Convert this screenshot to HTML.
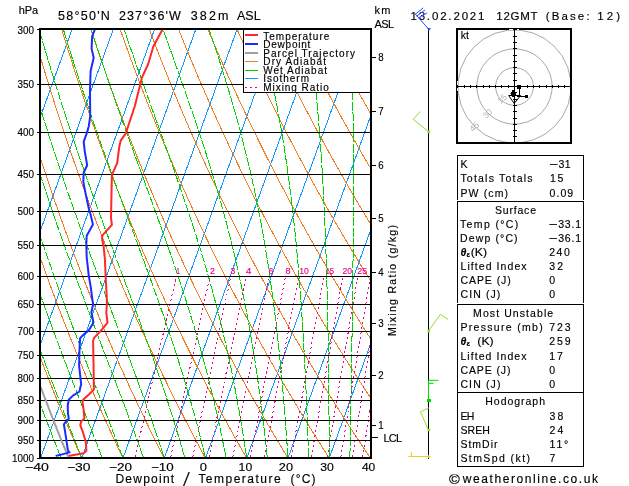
<!DOCTYPE html>
<html><head><meta charset="utf-8"><style>
html,body{margin:0;padding:0;background:#fff;}
body{width:629px;height:486px;position:relative;overflow:hidden;font-family:"Liberation Sans",sans-serif;}
svg text{font-family:"Liberation Sans",sans-serif;stroke:#000;stroke-width:0.15px;}
</style></head><body>
<svg width="629" height="486" viewBox="0 0 629 486" style="position:absolute;left:0;top:0">
<g fill="none" stroke-width="1" shape-rendering="crispEdges">
<path stroke="#1496ff" d="M41.00 115.03 L71.79 30.00 M41.00 228.95 L113.04 30.00 M41.00 342.87 L154.29 30.00 M41.00 456.79 L195.54 30.00 M82.17 457.00 L236.79 30.00 M123.42 457.00 L278.04 30.00 M164.67 457.00 L319.29 30.00 M205.92 457.00 L360.54 30.00 M247.17 457.00 L370.00 117.79 M288.42 457.00 L370.00 231.71 M329.67 457.00 L370.00 345.63"/>
<path stroke="#f07d1e" d="M81.23 457.00 L80.79 456.03 L79.84 453.87 L78.90 451.72 L77.95 449.57 L77.01 447.42 L76.07 445.26 L75.14 443.11 L74.21 440.96 L73.28 438.81 L72.35 436.66 L71.43 434.50 L70.51 432.35 L69.59 430.20 L68.68 428.05 L67.77 425.90 L66.86 423.74 L65.95 421.59 L65.05 419.44 L64.15 417.29 L63.25 415.13 L62.36 412.98 L61.47 410.83 L60.58 408.68 L59.69 406.53 L58.81 404.37 L57.93 402.22 L57.05 400.07 L56.18 397.92 L55.31 395.76 L54.44 393.61 L53.58 391.46 L52.71 389.31 L51.85 387.16 L51.00 385.00 L50.14 382.85 L49.29 380.70 L48.44 378.55 L47.60 376.40 L46.75 374.24 L45.91 372.09 L45.08 369.94 L44.24 367.79 L43.41 365.63 L42.58 363.48 L41.76 361.33 L41.00 359.35 M122.44 457.00 L121.97 456.03 L120.95 453.87 L119.93 451.72 L118.92 449.57 L117.91 447.42 L116.90 445.26 L115.89 443.11 L114.89 440.96 L113.89 438.81 L112.90 436.66 L111.90 434.50 L110.91 432.35 L109.92 430.20 L108.94 428.05 L107.96 425.90 L106.98 423.74 L106.01 421.59 L105.03 419.44 L104.07 417.29 L103.10 415.13 L102.14 412.98 L101.18 410.83 L100.22 408.68 L99.27 406.53 L98.32 404.37 L97.37 402.22 L96.42 400.07 L95.48 397.92 L94.54 395.76 L93.61 393.61 L92.67 391.46 L91.74 389.31 L90.82 387.16 L89.89 385.00 L88.97 382.85 L88.05 380.70 L87.14 378.55 L86.22 376.40 L85.32 374.24 L84.41 372.09 L83.51 369.94 L82.60 367.79 L81.71 365.63 L80.81 363.48 L79.92 361.33 L79.03 359.18 L78.14 357.03 L77.26 354.87 L76.38 352.72 L75.50 350.57 L74.63 348.42 L73.76 346.27 L72.89 344.11 L72.02 341.96 L71.16 339.81 L70.30 337.66 L69.44 335.50 L68.58 333.35 L67.73 331.20 L66.88 329.05 L66.04 326.90 L65.19 324.74 L64.35 322.59 L63.51 320.44 L62.68 318.29 L61.85 316.14 L61.02 313.98 L60.19 311.83 L59.36 309.68 L58.54 307.53 L57.72 305.37 L56.91 303.22 L56.10 301.07 L55.29 298.92 L54.48 296.77 L53.67 294.61 L52.87 292.46 L52.07 290.31 L51.27 288.16 L50.48 286.01 L49.69 283.85 L48.90 281.70 L48.11 279.55 L47.33 277.40 L46.55 275.24 L45.77 273.09 L45.00 270.94 L44.23 268.79 L43.46 266.64 L42.69 264.48 L41.93 262.33 L41.16 260.18 L41.00 259.72 M163.65 457.00 L163.15 456.03 L162.06 453.87 L160.97 451.72 L159.89 449.57 L158.80 447.42 L157.72 445.26 L156.65 443.11 L155.57 440.96 L154.51 438.81 L153.44 436.66 L152.38 434.50 L151.32 432.35 L150.26 430.20 L149.20 428.05 L148.15 425.90 L147.11 423.74 L146.06 421.59 L145.02 419.44 L143.98 417.29 L142.95 415.13 L141.92 412.98 L140.89 410.83 L139.86 408.68 L138.84 406.53 L137.82 404.37 L136.81 402.22 L135.79 400.07 L134.78 397.92 L133.78 395.76 L132.77 393.61 L131.77 391.46 L130.77 389.31 L129.78 387.16 L128.79 385.00 L127.80 382.85 L126.81 380.70 L125.83 378.55 L124.85 376.40 L123.88 374.24 L122.90 372.09 L121.93 369.94 L120.97 367.79 L120.00 365.63 L119.04 363.48 L118.08 361.33 L117.13 359.18 L116.18 357.03 L115.23 354.87 L114.28 352.72 L113.34 350.57 L112.40 348.42 L111.46 346.27 L110.53 344.11 L109.59 341.96 L108.67 339.81 L107.74 337.66 L106.82 335.50 L105.90 333.35 L104.98 331.20 L104.07 329.05 L103.16 326.90 L102.25 324.74 L101.34 322.59 L100.44 320.44 L99.54 318.29 L98.65 316.14 L97.75 313.98 L96.86 311.83 L95.98 309.68 L95.09 307.53 L94.21 305.37 L93.33 303.22 L92.46 301.07 L91.58 298.92 L90.71 296.77 L89.84 294.61 L88.98 292.46 L88.12 290.31 L87.26 288.16 L86.40 286.01 L85.55 283.85 L84.70 281.70 L83.85 279.55 L83.01 277.40 L82.16 275.24 L81.33 273.09 L80.49 270.94 L79.66 268.79 L78.82 266.64 L78.00 264.48 L77.17 262.33 L76.35 260.18 L75.53 258.03 L74.71 255.88 L73.90 253.72 L73.09 251.57 L72.28 249.42 L71.47 247.27 L70.67 245.11 L69.87 242.96 L69.07 240.81 L68.27 238.66 L67.48 236.51 L66.69 234.35 L65.91 232.20 L65.12 230.05 L64.34 227.90 L63.56 225.75 L62.79 223.59 L62.01 221.44 L61.24 219.29 L60.47 217.14 L59.71 214.98 L58.94 212.83 L58.18 210.68 L57.43 208.53 L56.67 206.38 L55.92 204.22 L55.17 202.07 L54.42 199.92 L53.68 197.77 L52.94 195.62 L52.20 193.46 L51.46 191.31 L50.73 189.16 L50.00 187.01 L49.27 184.85 L48.54 182.70 L47.82 180.55 L47.10 178.40 L46.38 176.25 L45.67 174.09 L44.95 171.94 L44.24 169.79 L43.54 167.64 L42.83 165.49 L42.13 163.33 L41.43 161.18 L41.00 159.86 M204.86 457.00 L204.33 456.03 L203.17 453.87 L202.01 451.72 L200.85 449.57 L199.70 447.42 L198.55 445.26 L197.40 443.11 L196.26 440.96 L195.12 438.81 L193.98 436.66 L192.85 434.50 L191.72 432.35 L190.59 430.20 L189.47 428.05 L188.35 425.90 L187.23 423.74 L186.12 421.59 L185.01 419.44 L183.90 417.29 L182.80 415.13 L181.70 412.98 L180.60 410.83 L179.51 408.68 L178.41 406.53 L177.33 404.37 L176.24 402.22 L175.16 400.07 L174.08 397.92 L173.01 395.76 L171.94 393.61 L170.87 391.46 L169.80 389.31 L168.74 387.16 L167.68 385.00 L166.63 382.85 L165.58 380.70 L164.53 378.55 L163.48 376.40 L162.44 374.24 L161.40 372.09 L160.36 369.94 L159.33 367.79 L158.30 365.63 L157.27 363.48 L156.25 361.33 L155.22 359.18 L154.21 357.03 L153.19 354.87 L152.18 352.72 L151.17 350.57 L150.17 348.42 L149.16 346.27 L148.16 344.11 L147.17 341.96 L146.17 339.81 L145.18 337.66 L144.20 335.50 L143.21 333.35 L142.23 331.20 L141.25 329.05 L140.28 326.90 L139.31 324.74 L138.34 322.59 L137.37 320.44 L136.41 318.29 L135.45 316.14 L134.49 313.98 L133.54 311.83 L132.59 309.68 L131.64 307.53 L130.70 305.37 L129.75 303.22 L128.82 301.07 L127.88 298.92 L126.95 296.77 L126.02 294.61 L125.09 292.46 L124.17 290.31 L123.24 288.16 L122.33 286.01 L121.41 283.85 L120.50 281.70 L119.59 279.55 L118.68 277.40 L117.78 275.24 L116.88 273.09 L115.98 270.94 L115.09 268.79 L114.19 266.64 L113.30 264.48 L112.42 262.33 L111.53 260.18 L110.65 258.03 L109.78 255.88 L108.90 253.72 L108.03 251.57 L107.16 249.42 L106.29 247.27 L105.43 245.11 L104.57 242.96 L103.71 240.81 L102.86 238.66 L102.01 236.51 L101.16 234.35 L100.31 232.20 L99.47 230.05 L98.62 227.90 L97.79 225.75 L96.95 223.59 L96.12 221.44 L95.29 219.29 L94.46 217.14 L93.64 214.98 L92.82 212.83 L92.00 210.68 L91.18 208.53 L90.37 206.38 L89.56 204.22 L88.75 202.07 L87.95 199.92 L87.14 197.77 L86.35 195.62 L85.55 193.46 L84.75 191.31 L83.96 189.16 L83.18 187.01 L82.39 184.85 L81.61 182.70 L80.83 180.55 L80.05 178.40 L79.27 176.25 L78.50 174.09 L77.73 171.94 L76.96 169.79 L76.20 167.64 L75.44 165.49 L74.68 163.33 L73.92 161.18 L73.17 159.03 L72.42 156.88 L71.67 154.72 L70.92 152.57 L70.18 150.42 L69.44 148.27 L68.70 146.12 L67.97 143.96 L67.24 141.81 L66.51 139.66 L65.78 137.51 L65.05 135.36 L64.33 133.20 L63.61 131.05 L62.89 128.90 L62.18 126.75 L61.47 124.59 L60.76 122.44 L60.05 120.29 L59.35 118.14 L58.65 115.99 L57.95 113.83 L57.25 111.68 L56.56 109.53 L55.87 107.38 L55.18 105.23 L54.49 103.07 L53.81 100.92 L53.13 98.77 L52.45 96.62 L51.77 94.46 L51.10 92.31 L50.43 90.16 L49.76 88.01 L49.09 85.86 L48.43 83.70 L47.77 81.55 L47.11 79.40 L46.45 77.25 L45.80 75.10 L45.15 72.94 L44.50 70.79 L43.85 68.64 L43.21 66.49 L42.57 64.33 L41.93 62.18 L41.29 60.03 L41.00 59.05 M246.07 457.00 L245.51 456.03 L244.28 453.87 L243.04 451.72 L241.82 449.57 L240.59 447.42 L239.37 445.26 L238.16 443.11 L236.94 440.96 L235.73 438.81 L234.52 436.66 L233.32 434.50 L232.12 432.35 L230.93 430.20 L229.73 428.05 L228.54 425.90 L227.36 423.74 L226.17 421.59 L224.99 419.44 L223.82 417.29 L222.65 415.13 L221.48 412.98 L220.31 410.83 L219.15 408.68 L217.99 406.53 L216.83 404.37 L215.68 402.22 L214.53 400.07 L213.38 397.92 L212.24 395.76 L211.10 393.61 L209.97 391.46 L208.83 389.31 L207.70 387.16 L206.58 385.00 L205.46 382.85 L204.34 380.70 L203.22 378.55 L202.11 376.40 L201.00 374.24 L199.89 372.09 L198.79 369.94 L197.69 367.79 L196.59 365.63 L195.50 363.48 L194.41 361.33 L193.32 359.18 L192.24 357.03 L191.16 354.87 L190.08 352.72 L189.01 350.57 L187.94 348.42 L186.87 346.27 L185.80 344.11 L184.74 341.96 L183.68 339.81 L182.63 337.66 L181.58 335.50 L180.53 333.35 L179.48 331.20 L178.44 329.05 L177.40 326.90 L176.37 324.74 L175.33 322.59 L174.30 320.44 L173.28 318.29 L172.25 316.14 L171.23 313.98 L170.22 311.83 L169.20 309.68 L168.19 307.53 L167.18 305.37 L166.18 303.22 L165.18 301.07 L164.18 298.92 L163.18 296.77 L162.19 294.61 L161.20 292.46 L160.21 290.31 L159.23 288.16 L158.25 286.01 L157.27 283.85 L156.30 281.70 L155.33 279.55 L154.36 277.40 L153.39 275.24 L152.43 273.09 L151.47 270.94 L150.51 268.79 L149.56 266.64 L148.61 264.48 L147.66 262.33 L146.72 260.18 L145.78 258.03 L144.84 255.88 L143.90 253.72 L142.97 251.57 L142.04 249.42 L141.12 247.27 L140.19 245.11 L139.27 242.96 L138.35 240.81 L137.44 238.66 L136.53 236.51 L135.62 234.35 L134.71 232.20 L133.81 230.05 L132.91 227.90 L132.01 225.75 L131.12 223.59 L130.23 221.44 L129.34 219.29 L128.45 217.14 L127.57 214.98 L126.69 212.83 L125.81 210.68 L124.94 208.53 L124.07 206.38 L123.20 204.22 L122.33 202.07 L121.47 199.92 L120.61 197.77 L119.75 195.62 L118.90 193.46 L118.05 191.31 L117.20 189.16 L116.35 187.01 L115.51 184.85 L114.67 182.70 L113.83 180.55 L113.00 178.40 L112.16 176.25 L111.34 174.09 L110.51 171.94 L109.69 169.79 L108.86 167.64 L108.05 165.49 L107.23 163.33 L106.42 161.18 L105.61 159.03 L104.80 156.88 L104.00 154.72 L103.20 152.57 L102.40 150.42 L101.60 148.27 L100.81 146.12 L100.02 143.96 L99.23 141.81 L98.44 139.66 L97.66 137.51 L96.88 135.36 L96.10 133.20 L95.33 131.05 L94.56 128.90 L93.79 126.75 L93.02 124.59 L92.26 122.44 L91.50 120.29 L90.74 118.14 L89.98 115.99 L89.23 113.83 L88.48 111.68 L87.73 109.53 L86.99 107.38 L86.24 105.23 L85.50 103.07 L84.77 100.92 L84.03 98.77 L83.30 96.62 L82.57 94.46 L81.84 92.31 L81.12 90.16 L80.40 88.01 L79.68 85.86 L78.96 83.70 L78.25 81.55 L77.54 79.40 L76.83 77.25 L76.12 75.10 L75.42 72.94 L74.72 70.79 L74.02 68.64 L73.32 66.49 L72.63 64.33 L71.94 62.18 L71.25 60.03 L70.56 57.88 L69.88 55.73 L69.20 53.57 L68.52 51.42 L67.85 49.27 L67.17 47.12 L66.50 44.97 L65.83 42.81 L65.17 40.66 L64.51 38.51 L63.85 36.36 L63.19 34.20 L62.53 32.05 L61.91 30.00 M287.28 457.00 L286.69 456.03 L285.38 453.87 L284.08 451.72 L282.78 449.57 L281.49 447.42 L280.20 445.26 L278.91 443.11 L277.63 440.96 L276.34 438.81 L275.07 436.66 L273.79 434.50 L272.52 432.35 L271.26 430.20 L270.00 428.05 L268.74 425.90 L267.48 423.74 L266.23 421.59 L264.98 419.44 L263.74 417.29 L262.49 415.13 L261.26 412.98 L260.02 410.83 L258.79 408.68 L257.56 406.53 L256.34 404.37 L255.12 402.22 L253.90 400.07 L252.69 397.92 L251.48 395.76 L250.27 393.61 L249.06 391.46 L247.86 389.31 L246.67 387.16 L245.47 385.00 L244.28 382.85 L243.10 380.70 L241.92 378.55 L240.74 376.40 L239.56 374.24 L238.39 372.09 L237.22 369.94 L236.05 367.79 L234.89 365.63 L233.73 363.48 L232.57 361.33 L231.42 359.18 L230.27 357.03 L229.12 354.87 L227.98 352.72 L226.84 350.57 L225.70 348.42 L224.57 346.27 L223.44 344.11 L222.32 341.96 L221.19 339.81 L220.07 337.66 L218.96 335.50 L217.84 333.35 L216.73 331.20 L215.63 329.05 L214.52 326.90 L213.42 324.74 L212.33 322.59 L211.23 320.44 L210.14 318.29 L209.06 316.14 L207.97 313.98 L206.89 311.83 L205.81 309.68 L204.74 307.53 L203.67 305.37 L202.60 303.22 L201.54 301.07 L200.47 298.92 L199.42 296.77 L198.36 294.61 L197.31 292.46 L196.26 290.31 L195.21 288.16 L194.17 286.01 L193.13 283.85 L192.10 281.70 L191.06 279.55 L190.03 277.40 L189.01 275.24 L187.98 273.09 L186.96 270.94 L185.94 268.79 L184.93 266.64 L183.92 264.48 L182.91 262.33 L181.90 260.18 L180.90 258.03 L179.90 255.88 L178.91 253.72 L177.91 251.57 L176.93 249.42 L175.94 247.27 L174.95 245.11 L173.97 242.96 L173.00 240.81 L172.02 238.66 L171.05 236.51 L170.08 234.35 L169.12 232.20 L168.15 230.05 L167.19 227.90 L166.24 225.75 L165.28 223.59 L164.33 221.44 L163.39 219.29 L162.44 217.14 L161.50 214.98 L160.56 212.83 L159.63 210.68 L158.69 208.53 L157.76 206.38 L156.84 204.22 L155.91 202.07 L154.99 199.92 L154.07 197.77 L153.16 195.62 L152.25 193.46 L151.34 191.31 L150.43 189.16 L149.53 187.01 L148.63 184.85 L147.73 182.70 L146.84 180.55 L145.95 178.40 L145.06 176.25 L144.17 174.09 L143.29 171.94 L142.41 169.79 L141.53 167.64 L140.66 165.49 L139.78 163.33 L138.91 161.18 L138.05 159.03 L137.19 156.88 L136.33 154.72 L135.47 152.57 L134.61 150.42 L133.76 148.27 L132.91 146.12 L132.07 143.96 L131.22 141.81 L130.38 139.66 L129.55 137.51 L128.71 135.36 L127.88 133.20 L127.05 131.05 L126.22 128.90 L125.40 126.75 L124.58 124.59 L123.76 122.44 L122.94 120.29 L122.13 118.14 L121.32 115.99 L120.51 113.83 L119.71 111.68 L118.91 109.53 L118.11 107.38 L117.31 105.23 L116.52 103.07 L115.73 100.92 L114.94 98.77 L114.15 96.62 L113.37 94.46 L112.59 92.31 L111.81 90.16 L111.04 88.01 L110.27 85.86 L109.50 83.70 L108.73 81.55 L107.97 79.40 L107.21 77.25 L106.45 75.10 L105.69 72.94 L104.94 70.79 L104.19 68.64 L103.44 66.49 L102.69 64.33 L101.95 62.18 L101.21 60.03 L100.47 57.88 L99.74 55.73 L99.01 53.57 L98.28 51.42 L97.55 49.27 L96.82 47.12 L96.10 44.97 L95.38 42.81 L94.67 40.66 L93.95 38.51 L93.24 36.36 L92.53 34.20 L91.83 32.05 L91.15 30.00 M328.49 457.00 L327.87 456.03 L326.49 453.87 L325.12 451.72 L323.75 449.57 L322.38 447.42 L321.02 445.26 L319.66 443.11 L318.31 440.96 L316.96 438.81 L315.61 436.66 L314.27 434.50 L312.93 432.35 L311.59 430.20 L310.26 428.05 L308.93 425.90 L307.61 423.74 L306.28 421.59 L304.97 419.44 L303.65 417.29 L302.34 415.13 L301.03 412.98 L299.73 410.83 L298.43 408.68 L297.14 406.53 L295.84 404.37 L294.55 402.22 L293.27 400.07 L291.99 397.92 L290.71 395.76 L289.43 393.61 L288.16 391.46 L286.89 389.31 L285.63 387.16 L284.37 385.00 L283.11 382.85 L281.86 380.70 L280.61 378.55 L279.36 376.40 L278.12 374.24 L276.88 372.09 L275.64 369.94 L274.41 367.79 L273.18 365.63 L271.96 363.48 L270.73 361.33 L269.52 359.18 L268.30 357.03 L267.09 354.87 L265.88 352.72 L264.68 350.57 L263.47 348.42 L262.28 346.27 L261.08 344.11 L259.89 341.96 L258.70 339.81 L257.52 337.66 L256.34 335.50 L255.16 333.35 L253.98 331.20 L252.81 329.05 L251.65 326.90 L250.48 324.74 L249.32 322.59 L248.16 320.44 L247.01 318.29 L245.86 316.14 L244.71 313.98 L243.57 311.83 L242.43 309.68 L241.29 307.53 L240.15 305.37 L239.02 303.22 L237.90 301.07 L236.77 298.92 L235.65 296.77 L234.53 294.61 L233.42 292.46 L232.31 290.31 L231.20 288.16 L230.09 286.01 L228.99 283.85 L227.89 281.70 L226.80 279.55 L225.71 277.40 L224.62 275.24 L223.53 273.09 L222.45 270.94 L221.37 268.79 L220.30 266.64 L219.23 264.48 L218.16 262.33 L217.09 260.18 L216.03 258.03 L214.97 255.88 L213.91 253.72 L212.86 251.57 L211.81 249.42 L210.76 247.27 L209.72 245.11 L208.68 242.96 L207.64 240.81 L206.60 238.66 L205.57 236.51 L204.54 234.35 L203.52 232.20 L202.50 230.05 L201.48 227.90 L200.46 225.75 L199.45 223.59 L198.44 221.44 L197.44 219.29 L196.43 217.14 L195.43 214.98 L194.43 212.83 L193.44 210.68 L192.45 208.53 L191.46 206.38 L190.48 204.22 L189.49 202.07 L188.52 199.92 L187.54 197.77 L186.57 195.62 L185.60 193.46 L184.63 191.31 L183.67 189.16 L182.71 187.01 L181.75 184.85 L180.79 182.70 L179.84 180.55 L178.89 178.40 L177.95 176.25 L177.01 174.09 L176.07 171.94 L175.13 169.79 L174.19 167.64 L173.26 165.49 L172.34 163.33 L171.41 161.18 L170.49 159.03 L169.57 156.88 L168.65 154.72 L167.74 152.57 L166.83 150.42 L165.92 148.27 L165.02 146.12 L164.12 143.96 L163.22 141.81 L162.32 139.66 L161.43 137.51 L160.54 135.36 L159.65 133.20 L158.77 131.05 L157.89 128.90 L157.01 126.75 L156.13 124.59 L155.26 122.44 L154.39 120.29 L153.52 118.14 L152.66 115.99 L151.80 113.83 L150.94 111.68 L150.08 109.53 L149.23 107.38 L148.38 105.23 L147.53 103.07 L146.69 100.92 L145.85 98.77 L145.01 96.62 L144.17 94.46 L143.34 92.31 L142.51 90.16 L141.68 88.01 L140.86 85.86 L140.03 83.70 L139.21 81.55 L138.40 79.40 L137.58 77.25 L136.77 75.10 L135.96 72.94 L135.16 70.79 L134.36 68.64 L133.56 66.49 L132.76 64.33 L131.96 62.18 L131.17 60.03 L130.38 57.88 L129.60 55.73 L128.81 53.57 L128.03 51.42 L127.25 49.27 L126.48 47.12 L125.70 44.97 L124.93 42.81 L124.16 40.66 L123.40 38.51 L122.64 36.36 L121.88 34.20 L121.12 32.05 L120.40 30.00 M369.70 457.00 L369.05 456.03 L367.60 453.87 L366.15 451.72 L364.71 449.57 L363.28 447.42 L361.85 445.26 L360.42 443.11 L358.99 440.96 L357.57 438.81 L356.15 436.66 L354.74 434.50 L353.33 432.35 L351.93 430.20 L350.52 428.05 L349.13 425.90 L347.73 423.74 L346.34 421.59 L344.95 419.44 L343.57 417.29 L342.19 415.13 L340.81 412.98 L339.44 410.83 L338.07 408.68 L336.71 406.53 L335.35 404.37 L333.99 402.22 L332.64 400.07 L331.29 397.92 L329.94 395.76 L328.60 393.61 L327.26 391.46 L325.93 389.31 L324.59 387.16 L323.27 385.00 L321.94 382.85 L320.62 380.70 L319.30 378.55 L317.99 376.40 L316.68 374.24 L315.37 372.09 L314.07 369.94 L312.77 367.79 L311.48 365.63 L310.19 363.48 L308.90 361.33 L307.61 359.18 L306.33 357.03 L305.05 354.87 L303.78 352.72 L302.51 350.57 L301.24 348.42 L299.98 346.27 L298.72 344.11 L297.46 341.96 L296.21 339.81 L294.96 337.66 L293.72 335.50 L292.47 333.35 L291.24 331.20 L290.00 329.05 L288.77 326.90 L287.54 324.74 L286.31 322.59 L285.09 320.44 L283.88 318.29 L282.66 316.14 L281.45 313.98 L280.24 311.83 L279.04 309.68 L277.84 307.53 L276.64 305.37 L275.45 303.22 L274.26 301.07 L273.07 298.92 L271.88 296.77 L270.70 294.61 L269.53 292.46 L268.35 290.31 L267.18 288.16 L266.02 286.01 L264.85 283.85 L263.69 281.70 L262.54 279.55 L261.38 277.40 L260.23 275.24 L259.09 273.09 L257.94 270.94 L256.80 268.79 L255.67 266.64 L254.53 264.48 L253.40 262.33 L252.28 260.18 L251.15 258.03 L250.03 255.88 L248.91 253.72 L247.80 251.57 L246.69 249.42 L245.58 247.27 L244.48 245.11 L243.38 242.96 L242.28 240.81 L241.19 238.66 L240.10 236.51 L239.01 234.35 L237.92 232.20 L236.84 230.05 L235.76 227.90 L234.69 225.75 L233.62 223.59 L232.55 221.44 L231.48 219.29 L230.42 217.14 L229.36 214.98 L228.31 212.83 L227.25 210.68 L226.20 208.53 L225.16 206.38 L224.12 204.22 L223.08 202.07 L222.04 199.92 L221.00 197.77 L219.97 195.62 L218.95 193.46 L217.92 191.31 L216.90 189.16 L215.88 187.01 L214.87 184.85 L213.86 182.70 L212.85 180.55 L211.84 178.40 L210.84 176.25 L209.84 174.09 L208.84 171.94 L207.85 169.79 L206.86 167.64 L205.87 165.49 L204.89 163.33 L203.91 161.18 L202.93 159.03 L201.95 156.88 L200.98 154.72 L200.01 152.57 L199.05 150.42 L198.08 148.27 L197.12 146.12 L196.17 143.96 L195.21 141.81 L194.26 139.66 L193.31 137.51 L192.37 135.36 L191.43 133.20 L190.49 131.05 L189.55 128.90 L188.62 126.75 L187.69 124.59 L186.76 122.44 L185.84 120.29 L184.91 118.14 L184.00 115.99 L183.08 113.83 L182.17 111.68 L181.26 109.53 L180.35 107.38 L179.45 105.23 L178.55 103.07 L177.65 100.92 L176.75 98.77 L175.86 96.62 L174.97 94.46 L174.09 92.31 L173.20 90.16 L172.32 88.01 L171.44 85.86 L170.57 83.70 L169.70 81.55 L168.83 79.40 L167.96 77.25 L167.10 75.10 L166.24 72.94 L165.38 70.79 L164.52 68.64 L163.67 66.49 L162.82 64.33 L161.98 62.18 L161.13 60.03 L160.29 57.88 L159.45 55.73 L158.62 53.57 L157.78 51.42 L156.95 49.27 L156.13 47.12 L155.30 44.97 L154.48 42.81 L153.66 40.66 L152.85 38.51 L152.03 36.36 L151.22 34.20 L150.42 32.05 L149.65 30.00 M370.00 397.02 L369.17 395.76 L367.76 393.61 L366.36 391.46 L364.96 389.31 L363.56 387.16 L362.16 385.00 L360.77 382.85 L359.38 380.70 L358.00 378.55 L356.62 376.40 L355.24 374.24 L353.87 372.09 L352.50 369.94 L351.13 367.79 L349.77 365.63 L348.42 363.48 L347.06 361.33 L345.71 359.18 L344.36 357.03 L343.02 354.87 L341.68 352.72 L340.34 350.57 L339.01 348.42 L337.68 346.27 L336.36 344.11 L335.04 341.96 L333.72 339.81 L332.41 337.66 L331.10 335.50 L329.79 333.35 L328.49 331.20 L327.19 329.05 L325.89 326.90 L324.60 324.74 L323.31 322.59 L322.02 320.44 L320.74 318.29 L319.46 316.14 L318.19 313.98 L316.92 311.83 L315.65 309.68 L314.39 307.53 L313.13 305.37 L311.87 303.22 L310.62 301.07 L309.37 298.92 L308.12 296.77 L306.88 294.61 L305.64 292.46 L304.40 290.31 L303.17 288.16 L301.94 286.01 L300.71 283.85 L299.49 281.70 L298.27 279.55 L297.06 277.40 L295.85 275.24 L294.64 273.09 L293.43 270.94 L292.23 268.79 L291.03 266.64 L289.84 264.48 L288.65 262.33 L287.46 260.18 L286.28 258.03 L285.10 255.88 L283.92 253.72 L282.74 251.57 L281.57 249.42 L280.41 247.27 L279.24 245.11 L278.08 242.96 L276.92 240.81 L275.77 238.66 L274.62 236.51 L273.47 234.35 L272.33 232.20 L271.19 230.05 L270.05 227.90 L268.91 225.75 L267.78 223.59 L266.66 221.44 L265.53 219.29 L264.41 217.14 L263.29 214.98 L262.18 212.83 L261.07 210.68 L259.96 208.53 L258.86 206.38 L257.75 204.22 L256.66 202.07 L255.56 199.92 L254.47 197.77 L253.38 195.62 L252.30 193.46 L251.21 191.31 L250.14 189.16 L249.06 187.01 L247.99 184.85 L246.92 182.70 L245.85 180.55 L244.79 178.40 L243.73 176.25 L242.67 174.09 L241.62 171.94 L240.57 169.79 L239.52 167.64 L238.48 165.49 L237.44 163.33 L236.40 161.18 L235.37 159.03 L234.34 156.88 L233.31 154.72 L232.28 152.57 L231.26 150.42 L230.24 148.27 L229.23 146.12 L228.22 143.96 L227.21 141.81 L226.20 139.66 L225.20 137.51 L224.20 135.36 L223.20 133.20 L222.21 131.05 L221.22 128.90 L220.23 126.75 L219.24 124.59 L218.26 122.44 L217.28 120.29 L216.31 118.14 L215.33 115.99 L214.36 113.83 L213.40 111.68 L212.43 109.53 L211.47 107.38 L210.52 105.23 L209.56 103.07 L208.61 100.92 L207.66 98.77 L206.72 96.62 L205.77 94.46 L204.83 92.31 L203.90 90.16 L202.96 88.01 L202.03 85.86 L201.10 83.70 L200.18 81.55 L199.26 79.40 L198.34 77.25 L197.42 75.10 L196.51 72.94 L195.60 70.79 L194.69 68.64 L193.79 66.49 L192.89 64.33 L191.99 62.18 L191.09 60.03 L190.20 57.88 L189.31 55.73 L188.42 53.57 L187.54 51.42 L186.66 49.27 L185.78 47.12 L184.90 44.97 L184.03 42.81 L183.16 40.66 L182.29 38.51 L181.43 36.36 L180.57 34.20 L179.71 32.05 L178.89 30.00 M370.00 337.89 L369.85 337.66 L368.48 335.50 L367.10 333.35 L365.74 331.20 L364.37 329.05 L363.01 326.90 L361.66 324.74 L360.30 322.59 L358.95 320.44 L357.61 318.29 L356.27 316.14 L354.93 313.98 L353.59 311.83 L352.26 309.68 L350.94 307.53 L349.61 305.37 L348.29 303.22 L346.98 301.07 L345.66 298.92 L344.35 296.77 L343.05 294.61 L341.75 292.46 L340.45 290.31 L339.15 288.16 L337.86 286.01 L336.57 283.85 L335.29 281.70 L334.01 279.55 L332.73 277.40 L331.46 275.24 L330.19 273.09 L328.92 270.94 L327.66 268.79 L326.40 266.64 L325.15 264.48 L323.89 262.33 L322.65 260.18 L321.40 258.03 L320.16 255.88 L318.92 253.72 L317.69 251.57 L316.46 249.42 L315.23 247.27 L314.00 245.11 L312.78 242.96 L311.57 240.81 L310.35 238.66 L309.14 236.51 L307.93 234.35 L306.73 232.20 L305.53 230.05 L304.33 227.90 L303.14 225.75 L301.95 223.59 L300.76 221.44 L299.58 219.29 L298.40 217.14 L297.22 214.98 L296.05 212.83 L294.88 210.68 L293.72 208.53 L292.55 206.38 L291.39 204.22 L290.24 202.07 L289.08 199.92 L287.93 197.77 L286.79 195.62 L285.65 193.46 L284.51 191.31 L283.37 189.16 L282.24 187.01 L281.11 184.85 L279.98 182.70 L278.86 180.55 L277.74 178.40 L276.62 176.25 L275.51 174.09 L274.40 171.94 L273.29 169.79 L272.19 167.64 L271.09 165.49 L269.99 163.33 L268.90 161.18 L267.81 159.03 L266.72 156.88 L265.64 154.72 L264.56 152.57 L263.48 150.42 L262.40 148.27 L261.33 146.12 L260.27 143.96 L259.20 141.81 L258.14 139.66 L257.08 137.51 L256.03 135.36 L254.97 133.20 L253.93 131.05 L252.88 128.90 L251.84 126.75 L250.80 124.59 L249.76 122.44 L248.73 120.29 L247.70 118.14 L246.67 115.99 L245.65 113.83 L244.63 111.68 L243.61 109.53 L242.60 107.38 L241.58 105.23 L240.58 103.07 L239.57 100.92 L238.57 98.77 L237.57 96.62 L236.57 94.46 L235.58 92.31 L234.59 90.16 L233.60 88.01 L232.62 85.86 L231.64 83.70 L230.66 81.55 L229.69 79.40 L228.72 77.25 L227.75 75.10 L226.78 72.94 L225.82 70.79 L224.86 68.64 L223.90 66.49 L222.95 64.33 L222.00 62.18 L221.05 60.03 L220.11 57.88 L219.17 55.73 L218.23 53.57 L217.29 51.42 L216.36 49.27 L215.43 47.12 L214.50 44.97 L213.58 42.81 L212.66 40.66 L211.74 38.51 L210.83 36.36 L209.91 34.20 L209.00 32.05 L208.14 30.00 M370.00 279.95 L369.75 279.55 L368.41 277.40 L367.07 275.24 L365.74 273.09 L364.41 270.94 L363.09 268.79 L361.77 266.64 L360.45 264.48 L359.14 262.33 L357.83 260.18 L356.53 258.03 L355.22 255.88 L353.92 253.72 L352.63 251.57 L351.34 249.42 L350.05 247.27 L348.77 245.11 L347.48 242.96 L346.21 240.81 L344.93 238.66 L343.66 236.51 L342.40 234.35 L341.13 232.20 L339.87 230.05 L338.62 227.90 L337.37 225.75 L336.12 223.59 L334.87 221.44 L333.63 219.29 L332.39 217.14 L331.16 214.98 L329.92 212.83 L328.70 210.68 L327.47 208.53 L326.25 206.38 L325.03 204.22 L323.82 202.07 L322.61 199.92 L321.40 197.77 L320.20 195.62 L319.00 193.46 L317.80 191.31 L316.60 189.16 L315.41 187.01 L314.23 184.85 L313.04 182.70 L311.86 180.55 L310.69 178.40 L309.51 176.25 L308.34 174.09 L307.18 171.94 L306.01 169.79 L304.85 167.64 L303.70 165.49 L302.54 163.33 L301.39 161.18 L300.25 159.03 L299.11 156.88 L297.97 154.72 L296.83 152.57 L295.70 150.42 L294.57 148.27 L293.44 146.12 L292.32 143.96 L291.20 141.81 L290.08 139.66 L288.97 137.51 L287.85 135.36 L286.75 133.20 L285.64 131.05 L284.54 128.90 L283.45 126.75 L282.35 124.59 L281.26 122.44 L280.17 120.29 L279.09 118.14 L278.01 115.99 L276.93 113.83 L275.86 111.68 L274.78 109.53 L273.72 107.38 L272.65 105.23 L271.59 103.07 L270.53 100.92 L269.48 98.77 L268.42 96.62 L267.37 94.46 L266.33 92.31 L265.29 90.16 L264.25 88.01 L263.21 85.86 L262.18 83.70 L261.14 81.55 L260.12 79.40 L259.09 77.25 L258.07 75.10 L257.05 72.94 L256.04 70.79 L255.03 68.64 L254.02 66.49 L253.01 64.33 L252.01 62.18 L251.01 60.03 L250.02 57.88 L249.02 55.73 L248.03 53.57 L247.05 51.42 L246.06 49.27 L245.08 47.12 L244.10 44.97 L243.13 42.81 L242.16 40.66 L241.19 38.51 L240.22 36.36 L239.26 34.20 L238.30 32.05 L237.39 30.00 M370.00 223.13 L368.98 221.44 L367.68 219.29 L366.38 217.14 L365.09 214.98 L363.80 212.83 L362.51 210.68 L361.23 208.53 L359.95 206.38 L358.67 204.22 L357.40 202.07 L356.13 199.92 L354.86 197.77 L353.60 195.62 L352.34 193.46 L351.09 191.31 L349.84 189.16 L348.59 187.01 L347.35 184.85 L346.11 182.70 L344.87 180.55 L343.64 178.40 L342.41 176.25 L341.18 174.09 L339.96 171.94 L338.74 169.79 L337.52 167.64 L336.31 165.49 L335.10 163.33 L333.89 161.18 L332.69 159.03 L331.49 156.88 L330.29 154.72 L329.10 152.57 L327.91 150.42 L326.73 148.27 L325.54 146.12 L324.37 143.96 L323.19 141.81 L322.02 139.66 L320.85 137.51 L319.68 135.36 L318.52 133.20 L317.36 131.05 L316.21 128.90 L315.06 126.75 L313.91 124.59 L312.76 122.44 L311.62 120.29 L310.48 118.14 L309.35 115.99 L308.21 113.83 L307.09 111.68 L305.96 109.53 L304.84 107.38 L303.72 105.23 L302.60 103.07 L301.49 100.92 L300.38 98.77 L299.28 96.62 L298.17 94.46 L297.08 92.31 L295.98 90.16 L294.89 88.01 L293.80 85.86 L292.71 83.70 L291.63 81.55 L290.55 79.40 L289.47 77.25 L288.40 75.10 L287.33 72.94 L286.26 70.79 L285.20 68.64 L284.14 66.49 L283.08 64.33 L282.02 62.18 L280.97 60.03 L279.93 57.88 L278.88 55.73 L277.84 53.57 L276.80 51.42 L275.76 49.27 L274.73 47.12 L273.70 44.97 L272.68 42.81 L271.65 40.66 L270.63 38.51 L269.62 36.36 L268.60 34.20 L267.59 32.05 L266.63 30.00 M370.00 167.33 L368.91 165.49 L367.65 163.33 L366.39 161.18 L365.13 159.03 L363.87 156.88 L362.62 154.72 L361.37 152.57 L360.13 150.42 L358.89 148.27 L357.65 146.12 L356.41 143.96 L355.18 141.81 L353.96 139.66 L352.73 137.51 L351.51 135.36 L350.30 133.20 L349.08 131.05 L347.87 128.90 L346.67 126.75 L345.46 124.59 L344.26 122.44 L343.07 120.29 L341.87 118.14 L340.68 115.99 L339.50 113.83 L338.32 111.68 L337.14 109.53 L335.96 107.38 L334.79 105.23 L333.62 103.07 L332.45 100.92 L331.29 98.77 L330.13 96.62 L328.97 94.46 L327.82 92.31 L326.67 90.16 L325.53 88.01 L324.39 85.86 L323.25 83.70 L322.11 81.55 L320.98 79.40 L319.85 77.25 L318.72 75.10 L317.60 72.94 L316.48 70.79 L315.36 68.64 L314.25 66.49 L313.14 64.33 L312.04 62.18 L310.93 60.03 L309.83 57.88 L308.74 55.73 L307.64 53.57 L306.55 51.42 L305.47 49.27 L304.38 47.12 L303.30 44.97 L302.23 42.81 L301.15 40.66 L300.08 38.51 L299.01 36.36 L297.95 34.20 L296.89 32.05 L295.88 30.00 M370.00 112.47 L369.54 111.68 L368.31 109.53 L367.08 107.38 L365.86 105.23 L364.63 103.07 L363.41 100.92 L362.20 98.77 L360.98 96.62 L359.78 94.46 L358.57 92.31 L357.37 90.16 L356.17 88.01 L354.97 85.86 L353.78 83.70 L352.59 81.55 L351.41 79.40 L350.23 77.25 L349.05 75.10 L347.87 72.94 L346.70 70.79 L345.53 68.64 L344.37 66.49 L343.21 64.33 L342.05 62.18 L340.89 60.03 L339.74 57.88 L338.59 55.73 L337.45 53.57 L336.31 51.42 L335.17 49.27 L334.03 47.12 L332.90 44.97 L331.78 42.81 L330.65 40.66 L329.53 38.51 L328.41 36.36 L327.29 34.20 L326.18 32.05 L325.13 30.00 M370.00 58.50 L369.65 57.88 L368.45 55.73 L367.25 53.57 L366.06 51.42 L364.87 49.27 L363.69 47.12 L362.50 44.97 L361.32 42.81 L360.15 40.66 L358.98 38.51 L357.81 36.36 L356.64 34.20 L355.48 32.05 L354.37 30.00"/>
<path stroke="#00d200" stroke-dasharray="9 1.5" d="M60.66 457.00 L60.28 456.03 L59.43 453.87 L58.58 451.72 L57.74 449.57 L56.90 447.42 L56.05 445.26 L55.21 443.11 L54.37 440.96 L53.53 438.81 L52.70 436.66 L51.86 434.50 L51.02 432.35 L50.19 430.20 L49.36 428.05 L48.53 425.90 L47.70 423.74 L46.87 421.59 L46.04 419.44 L45.21 417.29 L44.39 415.13 L43.57 412.98 L42.75 410.83 L41.93 408.68 L41.11 406.53 L41.00 406.23 M81.28 457.00 L80.90 456.03 L80.05 453.87 L79.21 451.72 L78.36 449.57 L77.51 447.42 L76.67 445.26 L75.82 443.11 L74.98 440.96 L74.13 438.81 L73.29 436.66 L72.45 434.50 L71.60 432.35 L70.76 430.20 L69.92 428.05 L69.08 425.90 L68.24 423.74 L67.40 421.59 L66.56 419.44 L65.72 417.29 L64.88 415.13 L64.05 412.98 L63.21 410.83 L62.38 408.68 L61.55 406.53 L60.72 404.37 L59.89 402.22 L59.06 400.07 L58.23 397.92 L57.41 395.76 L56.58 393.61 L55.76 391.46 L54.94 389.31 L54.11 387.16 L53.30 385.00 L52.48 382.85 L51.66 380.70 L50.85 378.55 L50.03 376.40 L49.22 374.24 L48.41 372.09 L47.61 369.94 L46.80 367.79 L46.00 365.63 L45.19 363.48 L44.39 361.33 L43.59 359.18 L42.80 357.03 L42.00 354.87 L41.21 352.72 L41.00 352.16 M101.92 457.00 L101.54 456.03 L100.71 453.87 L99.87 451.72 L99.04 449.57 L98.20 447.42 L97.36 445.26 L96.53 443.11 L95.69 440.96 L94.85 438.81 L94.01 436.66 L93.18 434.50 L92.34 432.35 L91.50 430.20 L90.66 428.05 L89.82 425.90 L88.98 423.74 L88.14 421.59 L87.30 419.44 L86.46 417.29 L85.62 415.13 L84.78 412.98 L83.95 410.83 L83.11 408.68 L82.27 406.53 L81.43 404.37 L80.60 402.22 L79.76 400.07 L78.92 397.92 L78.09 395.76 L77.26 393.61 L76.42 391.46 L75.59 389.31 L74.76 387.16 L73.93 385.00 L73.10 382.85 L72.27 380.70 L71.44 378.55 L70.61 376.40 L69.79 374.24 L68.96 372.09 L68.14 369.94 L67.32 367.79 L66.50 365.63 L65.68 363.48 L64.86 361.33 L64.04 359.18 L63.22 357.03 L62.41 354.87 L61.60 352.72 L60.79 350.57 L59.98 348.42 L59.17 346.27 L58.36 344.11 L57.56 341.96 L56.75 339.81 L55.95 337.66 L55.15 335.50 L54.35 333.35 L53.55 331.20 L52.76 329.05 L51.97 326.90 L51.17 324.74 L50.39 322.59 L49.60 320.44 L48.81 318.29 L48.03 316.14 L47.25 313.98 L46.47 311.83 L45.69 309.68 L44.91 307.53 L44.14 305.37 L43.37 303.22 L42.60 301.07 L41.83 298.92 L41.06 296.77 L41.00 296.59 M122.56 457.00 L122.20 456.03 L121.39 453.87 L120.59 451.72 L119.78 449.57 L118.97 447.42 L118.16 445.26 L117.34 443.11 L116.53 440.96 L115.72 438.81 L114.90 436.66 L114.08 434.50 L113.26 432.35 L112.44 430.20 L111.62 428.05 L110.80 425.90 L109.97 423.74 L109.15 421.59 L108.32 419.44 L107.50 417.29 L106.67 415.13 L105.84 412.98 L105.01 410.83 L104.18 408.68 L103.35 406.53 L102.52 404.37 L101.69 402.22 L100.86 400.07 L100.03 397.92 L99.20 395.76 L98.37 393.61 L97.54 391.46 L96.70 389.31 L95.87 387.16 L95.04 385.00 L94.21 382.85 L93.38 380.70 L92.55 378.55 L91.72 376.40 L90.89 374.24 L90.06 372.09 L89.23 369.94 L88.40 367.79 L87.57 365.63 L86.74 363.48 L85.91 361.33 L85.09 359.18 L84.26 357.03 L83.43 354.87 L82.61 352.72 L81.79 350.57 L80.96 348.42 L80.14 346.27 L79.32 344.11 L78.50 341.96 L77.68 339.81 L76.87 337.66 L76.05 335.50 L75.23 333.35 L74.42 331.20 L73.61 329.05 L72.80 326.90 L71.99 324.74 L71.18 322.59 L70.37 320.44 L69.57 318.29 L68.76 316.14 L67.96 313.98 L67.16 311.83 L66.36 309.68 L65.56 307.53 L64.76 305.37 L63.97 303.22 L63.18 301.07 L62.38 298.92 L61.59 296.77 L60.81 294.61 L60.02 292.46 L59.24 290.31 L58.45 288.16 L57.67 286.01 L56.90 283.85 L56.12 281.70 L55.34 279.55 L54.57 277.40 L53.80 275.24 L53.03 273.09 L52.26 270.94 L51.50 268.79 L50.74 266.64 L49.98 264.48 L49.22 262.33 L48.46 260.18 L47.71 258.03 L46.95 255.88 L46.20 253.72 L45.45 251.57 L44.71 249.42 L43.96 247.27 L43.22 245.11 L42.48 242.96 L41.75 240.81 L41.01 238.66 L41.00 238.63 M143.21 457.00 L142.87 456.03 L142.11 453.87 L141.35 451.72 L140.59 449.57 L139.83 447.42 L139.06 445.26 L138.29 443.11 L137.52 440.96 L136.74 438.81 L135.96 436.66 L135.18 434.50 L134.40 432.35 L133.62 430.20 L132.83 428.05 L132.04 425.90 L131.25 423.74 L130.46 421.59 L129.67 419.44 L128.87 417.29 L128.07 415.13 L127.27 412.98 L126.47 410.83 L125.67 408.68 L124.87 406.53 L124.06 404.37 L123.25 402.22 L122.44 400.07 L121.63 397.92 L120.82 395.76 L120.01 393.61 L119.19 391.46 L118.38 389.31 L117.56 387.16 L116.75 385.00 L115.93 382.85 L115.11 380.70 L114.29 378.55 L113.47 376.40 L112.65 374.24 L111.83 372.09 L111.01 369.94 L110.19 367.79 L109.36 365.63 L108.54 363.48 L107.72 361.33 L106.89 359.18 L106.07 357.03 L105.24 354.87 L104.42 352.72 L103.60 350.57 L102.77 348.42 L101.95 346.27 L101.13 344.11 L100.30 341.96 L99.48 339.81 L98.66 337.66 L97.84 335.50 L97.01 333.35 L96.19 331.20 L95.37 329.05 L94.55 326.90 L93.73 324.74 L92.91 322.59 L92.09 320.44 L91.28 318.29 L90.46 316.14 L89.64 313.98 L88.83 311.83 L88.02 309.68 L87.20 307.53 L86.39 305.37 L85.58 303.22 L84.77 301.07 L83.96 298.92 L83.16 296.77 L82.35 294.61 L81.55 292.46 L80.74 290.31 L79.94 288.16 L79.14 286.01 L78.34 283.85 L77.54 281.70 L76.75 279.55 L75.95 277.40 L75.16 275.24 L74.37 273.09 L73.58 270.94 L72.79 268.79 L72.00 266.64 L71.22 264.48 L70.43 262.33 L69.65 260.18 L68.87 258.03 L68.10 255.88 L67.32 253.72 L66.55 251.57 L65.77 249.42 L65.00 247.27 L64.23 245.11 L63.47 242.96 L62.70 240.81 L61.94 238.66 L61.18 236.51 L60.42 234.35 L59.66 232.20 L58.91 230.05 L58.16 227.90 L57.41 225.75 L56.66 223.59 L55.91 221.44 L55.17 219.29 L54.42 217.14 L53.68 214.98 L52.95 212.83 L52.21 210.68 L51.48 208.53 L50.74 206.38 L50.02 204.22 L49.29 202.07 L48.56 199.92 L47.84 197.77 L47.12 195.62 L46.40 193.46 L45.69 191.31 L44.97 189.16 L44.26 187.01 L43.55 184.85 L42.85 182.70 L42.14 180.55 L41.44 178.40 L41.00 177.05 M163.87 457.00 L163.56 456.03 L162.87 453.87 L162.17 451.72 L161.48 449.57 L160.77 447.42 L160.07 445.26 L159.36 443.11 L158.65 440.96 L157.94 438.81 L157.22 436.66 L156.50 434.50 L155.77 432.35 L155.04 430.20 L154.31 428.05 L153.58 425.90 L152.84 423.74 L152.10 421.59 L151.36 419.44 L150.62 417.29 L149.87 415.13 L149.12 412.98 L148.37 410.83 L147.61 408.68 L146.85 406.53 L146.09 404.37 L145.33 402.22 L144.56 400.07 L143.79 397.92 L143.02 395.76 L142.25 393.61 L141.47 391.46 L140.69 389.31 L139.91 387.16 L139.13 385.00 L138.35 382.85 L137.56 380.70 L136.77 378.55 L135.98 376.40 L135.19 374.24 L134.40 372.09 L133.60 369.94 L132.81 367.79 L132.01 365.63 L131.21 363.48 L130.41 361.33 L129.61 359.18 L128.80 357.03 L128.00 354.87 L127.19 352.72 L126.39 350.57 L125.58 348.42 L124.77 346.27 L123.96 344.11 L123.15 341.96 L122.34 339.81 L121.53 337.66 L120.71 335.50 L119.90 333.35 L119.09 331.20 L118.27 329.05 L117.46 326.90 L116.64 324.74 L115.83 322.59 L115.01 320.44 L114.20 318.29 L113.38 316.14 L112.57 313.98 L111.75 311.83 L110.93 309.68 L110.12 307.53 L109.30 305.37 L108.49 303.22 L107.67 301.07 L106.86 298.92 L106.04 296.77 L105.23 294.61 L104.42 292.46 L103.61 290.31 L102.79 288.16 L101.98 286.01 L101.17 283.85 L100.36 281.70 L99.55 279.55 L98.74 277.40 L97.94 275.24 L97.13 273.09 L96.33 270.94 L95.52 268.79 L94.72 266.64 L93.91 264.48 L93.11 262.33 L92.31 260.18 L91.52 258.03 L90.72 255.88 L89.92 253.72 L89.13 251.57 L88.33 249.42 L87.54 247.27 L86.75 245.11 L85.96 242.96 L85.17 240.81 L84.39 238.66 L83.60 236.51 L82.82 234.35 L82.04 232.20 L81.26 230.05 L80.48 227.90 L79.70 225.75 L78.93 223.59 L78.16 221.44 L77.39 219.29 L76.62 217.14 L75.85 214.98 L75.08 212.83 L74.32 210.68 L73.56 208.53 L72.80 206.38 L72.04 204.22 L71.28 202.07 L70.53 199.92 L69.78 197.77 L69.03 195.62 L68.28 193.46 L67.53 191.31 L66.79 189.16 L66.05 187.01 L65.31 184.85 L64.57 182.70 L63.83 180.55 L63.10 178.40 L62.37 176.25 L61.64 174.09 L60.91 171.94 L60.19 169.79 L59.46 167.64 L58.74 165.49 L58.03 163.33 L57.31 161.18 L56.60 159.03 L55.88 156.88 L55.17 154.72 L54.47 152.57 L53.76 150.42 L53.06 148.27 L52.36 146.12 L51.66 143.96 L50.96 141.81 L50.27 139.66 L49.58 137.51 L48.89 135.36 L48.20 133.20 L47.52 131.05 L46.84 128.90 L46.16 126.75 L45.48 124.59 L44.80 122.44 L44.13 120.29 L43.46 118.14 L42.79 115.99 L42.13 113.83 L41.46 111.68 L41.00 110.18 M184.54 457.00 L184.27 456.03 L183.66 453.87 L183.04 451.72 L182.42 449.57 L181.80 447.42 L181.18 445.26 L180.55 443.11 L179.92 440.96 L179.28 438.81 L178.64 436.66 L178.00 434.50 L177.35 432.35 L176.70 430.20 L176.04 428.05 L175.39 425.90 L174.72 423.74 L174.06 421.59 L173.39 419.44 L172.72 417.29 L172.04 415.13 L171.36 412.98 L170.68 410.83 L169.99 408.68 L169.30 406.53 L168.60 404.37 L167.91 402.22 L167.21 400.07 L166.50 397.92 L165.80 395.76 L165.09 393.61 L164.37 391.46 L163.65 389.31 L162.94 387.16 L162.21 385.00 L161.49 382.85 L160.76 380.70 L160.02 378.55 L159.29 376.40 L158.55 374.24 L157.81 372.09 L157.07 369.94 L156.32 367.79 L155.57 365.63 L154.82 363.48 L154.07 361.33 L153.31 359.18 L152.55 357.03 L151.79 354.87 L151.03 352.72 L150.26 350.57 L149.49 348.42 L148.72 346.27 L147.95 344.11 L147.18 341.96 L146.40 339.81 L145.62 337.66 L144.84 335.50 L144.06 333.35 L143.27 331.20 L142.49 329.05 L141.70 326.90 L140.91 324.74 L140.12 322.59 L139.33 320.44 L138.54 318.29 L137.74 316.14 L136.95 313.98 L136.15 311.83 L135.35 309.68 L134.55 307.53 L133.75 305.37 L132.95 303.22 L132.15 301.07 L131.35 298.92 L130.55 296.77 L129.74 294.61 L128.94 292.46 L128.13 290.31 L127.33 288.16 L126.52 286.01 L125.71 283.85 L124.91 281.70 L124.10 279.55 L123.29 277.40 L122.49 275.24 L121.68 273.09 L120.87 270.94 L120.07 268.79 L119.26 266.64 L118.45 264.48 L117.65 262.33 L116.84 260.18 L116.03 258.03 L115.23 255.88 L114.42 253.72 L113.62 251.57 L112.81 249.42 L112.01 247.27 L111.21 245.11 L110.41 242.96 L109.60 240.81 L108.80 238.66 L108.00 236.51 L107.21 234.35 L106.41 232.20 L105.61 230.05 L104.81 227.90 L104.02 225.75 L103.23 223.59 L102.43 221.44 L101.64 219.29 L100.85 217.14 L100.06 214.98 L99.28 212.83 L98.49 210.68 L97.70 208.53 L96.92 206.38 L96.14 204.22 L95.36 202.07 L94.58 199.92 L93.80 197.77 L93.02 195.62 L92.25 193.46 L91.48 191.31 L90.71 189.16 L89.94 187.01 L89.17 184.85 L88.40 182.70 L87.64 180.55 L86.88 178.40 L86.11 176.25 L85.36 174.09 L84.60 171.94 L83.84 169.79 L83.09 167.64 L82.34 165.49 L81.59 163.33 L80.84 161.18 L80.10 159.03 L79.35 156.88 L78.61 154.72 L77.87 152.57 L77.13 150.42 L76.40 148.27 L75.66 146.12 L74.93 143.96 L74.20 141.81 L73.48 139.66 L72.75 137.51 L72.03 135.36 L71.31 133.20 L70.59 131.05 L69.87 128.90 L69.16 126.75 L68.45 124.59 L67.74 122.44 L67.03 120.29 L66.32 118.14 L65.62 115.99 L64.92 113.83 L64.22 111.68 L63.52 109.53 L62.83 107.38 L62.14 105.23 L61.45 103.07 L60.76 100.92 L60.07 98.77 L59.39 96.62 L58.71 94.46 L58.03 92.31 L57.35 90.16 L56.68 88.01 L56.01 85.86 L55.34 83.70 L54.67 81.55 L54.01 79.40 L53.35 77.25 L52.69 75.10 L52.03 72.94 L51.37 70.79 L50.72 68.64 L50.07 66.49 L49.42 64.33 L48.77 62.18 L48.13 60.03 L47.49 57.88 L46.85 55.73 L46.21 53.57 L45.58 51.42 L44.95 49.27 L44.32 47.12 L43.69 44.97 L43.06 42.81 L42.44 40.66 L41.82 38.51 L41.20 36.36 L41.00 35.65 M205.22 457.00 L204.98 456.03 L204.47 453.87 L203.95 451.72 L203.42 449.57 L202.89 447.42 L202.36 445.26 L201.83 443.11 L201.29 440.96 L200.74 438.81 L200.19 436.66 L199.64 434.50 L199.09 432.35 L198.53 430.20 L197.97 428.05 L197.40 425.90 L196.83 423.74 L196.26 421.59 L195.68 419.44 L195.10 417.29 L194.51 415.13 L193.92 412.98 L193.33 410.83 L192.73 408.68 L192.13 406.53 L191.53 404.37 L190.92 402.22 L190.31 400.07 L189.69 397.92 L189.07 395.76 L188.45 393.61 L187.82 391.46 L187.19 389.31 L186.55 387.16 L185.91 385.00 L185.27 382.85 L184.62 380.70 L183.97 378.55 L183.32 376.40 L182.66 374.24 L182.00 372.09 L181.34 369.94 L180.67 367.79 L180.00 365.63 L179.32 363.48 L178.64 361.33 L177.96 359.18 L177.27 357.03 L176.58 354.87 L175.89 352.72 L175.19 350.57 L174.50 348.42 L173.79 346.27 L173.09 344.11 L172.38 341.96 L171.67 339.81 L170.95 337.66 L170.23 335.50 L169.51 333.35 L168.79 331.20 L168.06 329.05 L167.33 326.90 L166.60 324.74 L165.86 322.59 L165.12 320.44 L164.38 318.29 L163.64 316.14 L162.89 313.98 L162.14 311.83 L161.39 309.68 L160.64 307.53 L159.88 305.37 L159.12 303.22 L158.36 301.07 L157.60 298.92 L156.84 296.77 L156.07 294.61 L155.30 292.46 L154.53 290.31 L153.76 288.16 L152.98 286.01 L152.21 283.85 L151.43 281.70 L150.65 279.55 L149.87 277.40 L149.09 275.24 L148.30 273.09 L147.52 270.94 L146.73 268.79 L145.95 266.64 L145.16 264.48 L144.37 262.33 L143.58 260.18 L142.79 258.03 L141.99 255.88 L141.20 253.72 L140.41 251.57 L139.61 249.42 L138.82 247.27 L138.02 245.11 L137.22 242.96 L136.43 240.81 L135.63 238.66 L134.83 236.51 L134.04 234.35 L133.24 232.20 L132.44 230.05 L131.64 227.90 L130.84 225.75 L130.05 223.59 L129.25 221.44 L128.45 219.29 L127.65 217.14 L126.86 214.98 L126.06 212.83 L125.26 210.68 L124.47 208.53 L123.67 206.38 L122.88 204.22 L122.08 202.07 L121.29 199.92 L120.50 197.77 L119.71 195.62 L118.92 193.46 L118.12 191.31 L117.34 189.16 L116.55 187.01 L115.76 184.85 L114.97 182.70 L114.19 180.55 L113.40 178.40 L112.62 176.25 L111.84 174.09 L111.06 171.94 L110.28 169.79 L109.50 167.64 L108.72 165.49 L107.95 163.33 L107.17 161.18 L106.40 159.03 L105.63 156.88 L104.86 154.72 L104.09 152.57 L103.32 150.42 L102.56 148.27 L101.80 146.12 L101.03 143.96 L100.27 141.81 L99.51 139.66 L98.76 137.51 L98.00 135.36 L97.25 133.20 L96.50 131.05 L95.75 128.90 L95.00 126.75 L94.26 124.59 L93.51 122.44 L92.77 120.29 L92.03 118.14 L91.29 115.99 L90.56 113.83 L89.82 111.68 L89.09 109.53 L88.36 107.38 L87.63 105.23 L86.91 103.07 L86.18 100.92 L85.46 98.77 L84.74 96.62 L84.02 94.46 L83.31 92.31 L82.59 90.16 L81.88 88.01 L81.17 85.86 L80.47 83.70 L79.76 81.55 L79.06 79.40 L78.36 77.25 L77.66 75.10 L76.96 72.94 L76.27 70.79 L75.58 68.64 L74.89 66.49 L74.20 64.33 L73.52 62.18 L72.83 60.03 L72.15 57.88 L71.47 55.73 L70.80 53.57 L70.12 51.42 L69.45 49.27 L68.78 47.12 L68.12 44.97 L67.45 42.81 L66.79 40.66 L66.13 38.51 L65.47 36.36 L64.82 34.20 L64.17 32.05 L63.54 30.00 M225.90 457.00 L225.71 456.03 L225.29 453.87 L224.87 451.72 L224.44 449.57 L224.01 447.42 L223.58 445.26 L223.15 443.11 L222.71 440.96 L222.27 438.81 L221.82 436.66 L221.37 434.50 L220.92 432.35 L220.46 430.20 L220.00 428.05 L219.54 425.90 L219.07 423.74 L218.60 421.59 L218.13 419.44 L217.65 417.29 L217.17 415.13 L216.69 412.98 L216.20 410.83 L215.70 408.68 L215.21 406.53 L214.71 404.37 L214.21 402.22 L213.70 400.07 L213.19 397.92 L212.67 395.76 L212.15 393.61 L211.63 391.46 L211.10 389.31 L210.57 387.16 L210.04 385.00 L209.50 382.85 L208.96 380.70 L208.41 378.55 L207.87 376.40 L207.31 374.24 L206.75 372.09 L206.19 369.94 L205.63 367.79 L205.06 365.63 L204.49 363.48 L203.91 361.33 L203.33 359.18 L202.74 357.03 L202.15 354.87 L201.56 352.72 L200.96 350.57 L200.36 348.42 L199.76 346.27 L199.15 344.11 L198.54 341.96 L197.92 339.81 L197.30 337.66 L196.68 335.50 L196.05 333.35 L195.42 331.20 L194.79 329.05 L194.15 326.90 L193.50 324.74 L192.86 322.59 L192.21 320.44 L191.55 318.29 L190.90 316.14 L190.24 313.98 L189.57 311.83 L188.90 309.68 L188.23 307.53 L187.56 305.37 L186.88 303.22 L186.20 301.07 L185.51 298.92 L184.82 296.77 L184.13 294.61 L183.43 292.46 L182.74 290.31 L182.03 288.16 L181.33 286.01 L180.62 283.85 L179.91 281.70 L179.20 279.55 L178.48 277.40 L177.76 275.24 L177.04 273.09 L176.31 270.94 L175.58 268.79 L174.85 266.64 L174.12 264.48 L173.38 262.33 L172.64 260.18 L171.90 258.03 L171.16 255.88 L170.41 253.72 L169.66 251.57 L168.91 249.42 L168.16 247.27 L167.40 245.11 L166.65 242.96 L165.89 240.81 L165.13 238.66 L164.37 236.51 L163.60 234.35 L162.83 232.20 L162.07 230.05 L161.30 227.90 L160.53 225.75 L159.75 223.59 L158.98 221.44 L158.21 219.29 L157.43 217.14 L156.65 214.98 L155.87 212.83 L155.09 210.68 L154.31 208.53 L153.53 206.38 L152.75 204.22 L151.97 202.07 L151.18 199.92 L150.40 197.77 L149.61 195.62 L148.83 193.46 L148.04 191.31 L147.25 189.16 L146.47 187.01 L145.68 184.85 L144.89 182.70 L144.11 180.55 L143.32 178.40 L142.53 176.25 L141.74 174.09 L140.95 171.94 L140.17 169.79 L139.38 167.64 L138.59 165.49 L137.81 163.33 L137.02 161.18 L136.23 159.03 L135.45 156.88 L134.66 154.72 L133.88 152.57 L133.10 150.42 L132.31 148.27 L131.53 146.12 L130.75 143.96 L129.97 141.81 L129.19 139.66 L128.41 137.51 L127.63 135.36 L126.86 133.20 L126.08 131.05 L125.31 128.90 L124.53 126.75 L123.76 124.59 L122.99 122.44 L122.22 120.29 L121.45 118.14 L120.68 115.99 L119.92 113.83 L119.15 111.68 L118.39 109.53 L117.63 107.38 L116.87 105.23 L116.11 103.07 L115.35 100.92 L114.60 98.77 L113.84 96.62 L113.09 94.46 L112.34 92.31 L111.59 90.16 L110.85 88.01 L110.10 85.86 L109.36 83.70 L108.61 81.55 L107.87 79.40 L107.14 77.25 L106.40 75.10 L105.67 72.94 L104.93 70.79 L104.20 68.64 L103.47 66.49 L102.75 64.33 L102.02 62.18 L101.30 60.03 L100.58 57.88 L99.86 55.73 L99.14 53.57 L98.43 51.42 L97.72 49.27 L97.01 47.12 L96.30 44.97 L95.59 42.81 L94.89 40.66 L94.19 38.51 L93.49 36.36 L92.79 34.20 L92.09 32.05 L91.43 30.00 M246.57 457.00 L246.43 456.03 L246.11 453.87 L245.79 451.72 L245.46 449.57 L245.13 447.42 L244.80 445.26 L244.47 443.11 L244.13 440.96 L243.79 438.81 L243.45 436.66 L243.11 434.50 L242.76 432.35 L242.41 430.20 L242.06 428.05 L241.70 425.90 L241.34 423.74 L240.98 421.59 L240.61 419.44 L240.24 417.29 L239.87 415.13 L239.50 412.98 L239.12 410.83 L238.74 408.68 L238.35 406.53 L237.97 404.37 L237.58 402.22 L237.18 400.07 L236.78 397.92 L236.38 395.76 L235.98 393.61 L235.57 391.46 L235.16 389.31 L234.75 387.16 L234.33 385.00 L233.91 382.85 L233.49 380.70 L233.06 378.55 L232.63 376.40 L232.19 374.24 L231.75 372.09 L231.31 369.94 L230.87 367.79 L230.42 365.63 L229.96 363.48 L229.51 361.33 L229.05 359.18 L228.58 357.03 L228.12 354.87 L227.64 352.72 L227.17 350.57 L226.69 348.42 L226.21 346.27 L225.72 344.11 L225.23 341.96 L224.74 339.81 L224.24 337.66 L223.73 335.50 L223.23 333.35 L222.72 331.20 L222.20 329.05 L221.69 326.90 L221.16 324.74 L220.64 322.59 L220.11 320.44 L219.58 318.29 L219.04 316.14 L218.50 313.98 L217.95 311.83 L217.40 309.68 L216.85 307.53 L216.29 305.37 L215.73 303.22 L215.16 301.07 L214.59 298.92 L214.02 296.77 L213.44 294.61 L212.86 292.46 L212.27 290.31 L211.69 288.16 L211.09 286.01 L210.49 283.85 L209.89 281.70 L209.29 279.55 L208.68 277.40 L208.07 275.24 L207.45 273.09 L206.83 270.94 L206.20 268.79 L205.57 266.64 L204.94 264.48 L204.31 262.33 L203.67 260.18 L203.02 258.03 L202.37 255.88 L201.72 253.72 L201.07 251.57 L200.41 249.42 L199.75 247.27 L199.08 245.11 L198.41 242.96 L197.74 240.81 L197.07 238.66 L196.39 236.51 L195.71 234.35 L195.02 232.20 L194.33 230.05 L193.64 227.90 L192.94 225.75 L192.24 223.59 L191.54 221.44 L190.84 219.29 L190.13 217.14 L189.42 214.98 L188.71 212.83 L187.99 210.68 L187.27 208.53 L186.55 206.38 L185.83 204.22 L185.10 202.07 L184.37 199.92 L183.64 197.77 L182.90 195.62 L182.17 193.46 L181.43 191.31 L180.69 189.16 L179.95 187.01 L179.20 184.85 L178.45 182.70 L177.70 180.55 L176.95 178.40 L176.20 176.25 L175.45 174.09 L174.69 171.94 L173.93 169.79 L173.17 167.64 L172.41 165.49 L171.65 163.33 L170.89 161.18 L170.12 159.03 L169.36 156.88 L168.59 154.72 L167.82 152.57 L167.05 150.42 L166.28 148.27 L165.51 146.12 L164.74 143.96 L163.97 141.81 L163.19 139.66 L162.42 137.51 L161.65 135.36 L160.87 133.20 L160.10 131.05 L159.32 128.90 L158.54 126.75 L157.77 124.59 L156.99 122.44 L156.22 120.29 L155.44 118.14 L154.66 115.99 L153.89 113.83 L153.11 111.68 L152.34 109.53 L151.56 107.38 L150.79 105.23 L150.01 103.07 L149.24 100.92 L148.46 98.77 L147.69 96.62 L146.92 94.46 L146.15 92.31 L145.37 90.16 L144.60 88.01 L143.83 85.86 L143.07 83.70 L142.30 81.55 L141.53 79.40 L140.76 77.25 L140.00 75.10 L139.24 72.94 L138.47 70.79 L137.71 68.64 L136.95 66.49 L136.19 64.33 L135.43 62.18 L134.68 60.03 L133.92 57.88 L133.17 55.73 L132.41 53.57 L131.66 51.42 L130.91 49.27 L130.17 47.12 L129.42 44.97 L128.67 42.81 L127.93 40.66 L127.19 38.51 L126.45 36.36 L125.71 34.20 L124.97 32.05 L124.27 30.00 M267.25 457.00 L267.15 456.03 L266.92 453.87 L266.69 451.72 L266.46 449.57 L266.23 447.42 L265.99 445.26 L265.76 443.11 L265.52 440.96 L265.28 438.81 L265.03 436.66 L264.79 434.50 L264.54 432.35 L264.29 430.20 L264.04 428.05 L263.78 425.90 L263.53 423.74 L263.27 421.59 L263.01 419.44 L262.75 417.29 L262.48 415.13 L262.21 412.98 L261.94 410.83 L261.67 408.68 L261.40 406.53 L261.12 404.37 L260.84 402.22 L260.56 400.07 L260.27 397.92 L259.99 395.76 L259.70 393.61 L259.41 391.46 L259.11 389.31 L258.81 387.16 L258.51 385.00 L258.21 382.85 L257.90 380.70 L257.60 378.55 L257.29 376.40 L256.97 374.24 L256.66 372.09 L256.34 369.94 L256.01 367.79 L255.69 365.63 L255.36 363.48 L255.03 361.33 L254.69 359.18 L254.36 357.03 L254.02 354.87 L253.67 352.72 L253.33 350.57 L252.98 348.42 L252.63 346.27 L252.27 344.11 L251.91 341.96 L251.55 339.81 L251.18 337.66 L250.82 335.50 L250.44 333.35 L250.07 331.20 L249.69 329.05 L249.31 326.90 L248.92 324.74 L248.53 322.59 L248.14 320.44 L247.75 318.29 L247.35 316.14 L246.94 313.98 L246.54 311.83 L246.13 309.68 L245.72 307.53 L245.30 305.37 L244.88 303.22 L244.45 301.07 L244.03 298.92 L243.59 296.77 L243.16 294.61 L242.72 292.46 L242.28 290.31 L241.83 288.16 L241.38 286.01 L240.92 283.85 L240.47 281.70 L240.00 279.55 L239.54 277.40 L239.07 275.24 L238.59 273.09 L238.12 270.94 L237.63 268.79 L237.15 266.64 L236.66 264.48 L236.16 262.33 L235.67 260.18 L235.16 258.03 L234.66 255.88 L234.15 253.72 L233.63 251.57 L233.12 249.42 L232.59 247.27 L232.07 245.11 L231.54 242.96 L231.00 240.81 L230.47 238.66 L229.92 236.51 L229.38 234.35 L228.83 232.20 L228.27 230.05 L227.71 227.90 L227.15 225.75 L226.58 223.59 L226.01 221.44 L225.44 219.29 L224.86 217.14 L224.27 214.98 L223.69 212.83 L223.10 210.68 L222.50 208.53 L221.90 206.38 L221.30 204.22 L220.69 202.07 L220.08 199.92 L219.46 197.77 L218.85 195.62 L218.22 193.46 L217.60 191.31 L216.97 189.16 L216.33 187.01 L215.69 184.85 L215.05 182.70 L214.41 180.55 L213.76 178.40 L213.11 176.25 L212.45 174.09 L211.79 171.94 L211.13 169.79 L210.46 167.64 L209.79 165.49 L209.12 163.33 L208.44 161.18 L207.76 159.03 L207.08 156.88 L206.39 154.72 L205.71 152.57 L205.01 150.42 L204.32 148.27 L203.62 146.12 L202.92 143.96 L202.21 141.81 L201.51 139.66 L200.80 137.51 L200.09 135.36 L199.37 133.20 L198.66 131.05 L197.94 128.90 L197.21 126.75 L196.49 124.59 L195.76 122.44 L195.03 120.29 L194.30 118.14 L193.57 115.99 L192.84 113.83 L192.10 111.68 L191.36 109.53 L190.62 107.38 L189.88 105.23 L189.13 103.07 L188.39 100.92 L187.64 98.77 L186.89 96.62 L186.14 94.46 L185.39 92.31 L184.64 90.16 L183.88 88.01 L183.13 85.86 L182.37 83.70 L181.62 81.55 L180.86 79.40 L180.10 77.25 L179.34 75.10 L178.58 72.94 L177.82 70.79 L177.06 68.64 L176.30 66.49 L175.54 64.33 L174.78 62.18 L174.01 60.03 L173.25 57.88 L172.49 55.73 L171.72 53.57 L170.96 51.42 L170.20 49.27 L169.44 47.12 L168.67 44.97 L167.91 42.81 L167.15 40.66 L166.39 38.51 L165.62 36.36 L164.86 34.20 L164.10 32.05 L163.38 30.00 M287.92 457.00 L287.86 456.03 L287.71 453.87 L287.57 451.72 L287.42 449.57 L287.27 447.42 L287.13 445.26 L286.98 443.11 L286.83 440.96 L286.67 438.81 L286.52 436.66 L286.36 434.50 L286.21 432.35 L286.05 430.20 L285.89 428.05 L285.73 425.90 L285.57 423.74 L285.40 421.59 L285.24 419.44 L285.07 417.29 L284.90 415.13 L284.73 412.98 L284.56 410.83 L284.39 408.68 L284.21 406.53 L284.04 404.37 L283.86 402.22 L283.68 400.07 L283.50 397.92 L283.31 395.76 L283.13 393.61 L282.94 391.46 L282.75 389.31 L282.56 387.16 L282.37 385.00 L282.18 382.85 L281.98 380.70 L281.79 378.55 L281.59 376.40 L281.38 374.24 L281.18 372.09 L280.98 369.94 L280.77 367.79 L280.56 365.63 L280.35 363.48 L280.13 361.33 L279.92 359.18 L279.70 357.03 L279.48 354.87 L279.26 352.72 L279.04 350.57 L278.81 348.42 L278.58 346.27 L278.35 344.11 L278.12 341.96 L277.88 339.81 L277.65 337.66 L277.41 335.50 L277.16 333.35 L276.92 331.20 L276.67 329.05 L276.42 326.90 L276.17 324.74 L275.92 322.59 L275.66 320.44 L275.40 318.29 L275.14 316.14 L274.88 313.98 L274.61 311.83 L274.34 309.68 L274.07 307.53 L273.79 305.37 L273.51 303.22 L273.23 301.07 L272.95 298.92 L272.66 296.77 L272.38 294.61 L272.08 292.46 L271.79 290.31 L271.49 288.16 L271.19 286.01 L270.89 283.85 L270.58 281.70 L270.27 279.55 L269.96 277.40 L269.64 275.24 L269.33 273.09 L269.00 270.94 L268.68 268.79 L268.35 266.64 L268.02 264.48 L267.69 262.33 L267.35 260.18 L267.01 258.03 L266.66 255.88 L266.32 253.72 L265.96 251.57 L265.61 249.42 L265.25 247.27 L264.89 245.11 L264.53 242.96 L264.16 240.81 L263.79 238.66 L263.41 236.51 L263.03 234.35 L262.65 232.20 L262.26 230.05 L261.87 227.90 L261.48 225.75 L261.08 223.59 L260.68 221.44 L260.28 219.29 L259.87 217.14 L259.45 214.98 L259.04 212.83 L258.62 210.68 L258.19 208.53 L257.77 206.38 L257.33 204.22 L256.90 202.07 L256.46 199.92 L256.02 197.77 L255.57 195.62 L255.12 193.46 L254.66 191.31 L254.20 189.16 L253.74 187.01 L253.27 184.85 L252.80 182.70 L252.32 180.55 L251.84 178.40 L251.36 176.25 L250.87 174.09 L250.38 171.94 L249.88 169.79 L249.38 167.64 L248.87 165.49 L248.36 163.33 L247.85 161.18 L247.33 159.03 L246.81 156.88 L246.29 154.72 L245.76 152.57 L245.22 150.42 L244.68 148.27 L244.14 146.12 L243.59 143.96 L243.04 141.81 L242.49 139.66 L241.93 137.51 L241.36 135.36 L240.80 133.20 L240.22 131.05 L239.65 128.90 L239.07 126.75 L238.48 124.59 L237.90 122.44 L237.30 120.29 L236.71 118.14 L236.11 115.99 L235.50 113.83 L234.90 111.68 L234.28 109.53 L233.67 107.38 L233.05 105.23 L232.43 103.07 L231.80 100.92 L231.17 98.77 L230.53 96.62 L229.89 94.46 L229.25 92.31 L228.61 90.16 L227.96 88.01 L227.31 85.86 L226.65 83.70 L225.99 81.55 L225.33 79.40 L224.66 77.25 L223.99 75.10 L223.32 72.94 L222.64 70.79 L221.97 68.64 L221.28 66.49 L220.60 64.33 L219.91 62.18 L219.22 60.03 L218.53 57.88 L217.83 55.73 L217.13 53.57 L216.43 51.42 L215.73 49.27 L215.02 47.12 L214.31 44.97 L213.60 42.81 L212.89 40.66 L212.18 38.51 L211.46 36.36 L210.74 34.20 L210.02 32.05 L209.33 30.00 M308.58 457.00 L308.55 456.03 L308.48 453.87 L308.41 451.72 L308.34 449.57 L308.27 447.42 L308.19 445.26 L308.12 443.11 L308.04 440.96 L307.97 438.81 L307.89 436.66 L307.81 434.50 L307.73 432.35 L307.66 430.20 L307.58 428.05 L307.49 425.90 L307.41 423.74 L307.33 421.59 L307.25 419.44 L307.16 417.29 L307.08 415.13 L306.99 412.98 L306.91 410.83 L306.82 408.68 L306.73 406.53 L306.64 404.37 L306.55 402.22 L306.46 400.07 L306.37 397.92 L306.27 395.76 L306.18 393.61 L306.08 391.46 L305.98 389.31 L305.89 387.16 L305.79 385.00 L305.69 382.85 L305.59 380.70 L305.49 378.55 L305.38 376.40 L305.28 374.24 L305.17 372.09 L305.07 369.94 L304.96 367.79 L304.85 365.63 L304.74 363.48 L304.63 361.33 L304.51 359.18 L304.40 357.03 L304.29 354.87 L304.17 352.72 L304.05 350.57 L303.93 348.42 L303.81 346.27 L303.69 344.11 L303.57 341.96 L303.44 339.81 L303.32 337.66 L303.19 335.50 L303.06 333.35 L302.93 331.20 L302.80 329.05 L302.66 326.90 L302.53 324.74 L302.39 322.59 L302.25 320.44 L302.11 318.29 L301.97 316.14 L301.83 313.98 L301.69 311.83 L301.54 309.68 L301.39 307.53 L301.24 305.37 L301.09 303.22 L300.94 301.07 L300.79 298.92 L300.63 296.77 L300.47 294.61 L300.31 292.46 L300.15 290.31 L299.99 288.16 L299.82 286.01 L299.66 283.85 L299.49 281.70 L299.32 279.55 L299.14 277.40 L298.97 275.24 L298.79 273.09 L298.61 270.94 L298.43 268.79 L298.25 266.64 L298.06 264.48 L297.88 262.33 L297.69 260.18 L297.50 258.03 L297.30 255.88 L297.11 253.72 L296.91 251.57 L296.71 249.42 L296.51 247.27 L296.30 245.11 L296.10 242.96 L295.89 240.81 L295.67 238.66 L295.46 236.51 L295.24 234.35 L295.02 232.20 L294.80 230.05 L294.58 227.90 L294.35 225.75 L294.12 223.59 L293.89 221.44 L293.66 219.29 L293.42 217.14 L293.18 214.98 L292.94 212.83 L292.69 210.68 L292.45 208.53 L292.20 206.38 L291.94 204.22 L291.69 202.07 L291.43 199.92 L291.17 197.77 L290.90 195.62 L290.64 193.46 L290.37 191.31 L290.09 189.16 L289.82 187.01 L289.54 184.85 L289.25 182.70 L288.97 180.55 L288.68 178.40 L288.39 176.25 L288.09 174.09 L287.79 171.94 L287.49 169.79 L287.19 167.64 L286.88 165.49 L286.57 163.33 L286.25 161.18 L285.93 159.03 L285.61 156.88 L285.29 154.72 L284.96 152.57 L284.63 150.42 L284.29 148.27 L283.95 146.12 L283.61 143.96 L283.26 141.81 L282.91 139.66 L282.56 137.51 L282.20 135.36 L281.84 133.20 L281.48 131.05 L281.11 128.90 L280.73 126.75 L280.36 124.59 L279.98 122.44 L279.59 120.29 L279.21 118.14 L278.81 115.99 L278.42 113.83 L278.02 111.68 L277.61 109.53 L277.21 107.38 L276.80 105.23 L276.38 103.07 L275.96 100.92 L275.54 98.77 L275.11 96.62 L274.68 94.46 L274.24 92.31 L273.80 90.16 L273.35 88.01 L272.90 85.86 L272.45 83.70 L271.99 81.55 L271.53 79.40 L271.07 77.25 L270.60 75.10 L270.12 72.94 L269.64 70.79 L269.16 68.64 L268.67 66.49 L268.18 64.33 L267.68 62.18 L267.18 60.03 L266.68 57.88 L266.17 55.73 L265.66 53.57 L265.14 51.42 L264.62 49.27 L264.09 47.12 L263.56 44.97 L263.03 42.81 L262.49 40.66 L261.94 38.51 L261.40 36.36 L260.85 34.20 L260.29 32.05 L259.76 30.00 M329.24 457.00 L329.24 456.03 L329.23 453.87 L329.22 451.72 L329.21 449.57 L329.20 447.42 L329.18 445.26 L329.17 443.11 L329.16 440.96 L329.15 438.81 L329.14 436.66 L329.12 434.50 L329.11 432.35 L329.10 430.20 L329.08 428.05 L329.07 425.90 L329.05 423.74 L329.04 421.59 L329.02 419.44 L329.01 417.29 L328.99 415.13 L328.98 412.98 L328.96 410.83 L328.94 408.68 L328.92 406.53 L328.91 404.37 L328.89 402.22 L328.87 400.07 L328.85 397.92 L328.83 395.76 L328.81 393.61 L328.79 391.46 L328.77 389.31 L328.74 387.16 L328.72 385.00 L328.70 382.85 L328.68 380.70 L328.65 378.55 L328.63 376.40 L328.60 374.24 L328.58 372.09 L328.55 369.94 L328.52 367.79 L328.50 365.63 L328.47 363.48 L328.44 361.33 L328.41 359.18 L328.38 357.03 L328.35 354.87 L328.32 352.72 L328.29 350.57 L328.26 348.42 L328.22 346.27 L328.19 344.11 L328.16 341.96 L328.12 339.81 L328.09 337.66 L328.05 335.50 L328.01 333.35 L327.97 331.20 L327.94 329.05 L327.90 326.90 L327.86 324.74 L327.82 322.59 L327.77 320.44 L327.73 318.29 L327.69 316.14 L327.64 313.98 L327.60 311.83 L327.55 309.68 L327.51 307.53 L327.46 305.37 L327.41 303.22 L327.36 301.07 L327.31 298.92 L327.26 296.77 L327.21 294.61 L327.16 292.46 L327.10 290.31 L327.05 288.16 L326.99 286.01 L326.93 283.85 L326.88 281.70 L326.82 279.55 L326.76 277.40 L326.70 275.24 L326.64 273.09 L326.57 270.94 L326.51 268.79 L326.44 266.64 L326.38 264.48 L326.31 262.33 L326.24 260.18 L326.17 258.03 L326.10 255.88 L326.03 253.72 L325.96 251.57 L325.88 249.42 L325.81 247.27 L325.73 245.11 L325.65 242.96 L325.57 240.81 L325.49 238.66 L325.41 236.51 L325.33 234.35 L325.24 232.20 L325.16 230.05 L325.07 227.90 L324.98 225.75 L324.89 223.59 L324.80 221.44 L324.71 219.29 L324.61 217.14 L324.52 214.98 L324.42 212.83 L324.32 210.68 L324.22 208.53 L324.12 206.38 L324.02 204.22 L323.91 202.07 L323.80 199.92 L323.70 197.77 L323.59 195.62 L323.48 193.46 L323.36 191.31 L323.25 189.16 L323.13 187.01 L323.01 184.85 L322.89 182.70 L322.77 180.55 L322.65 178.40 L322.52 176.25 L322.40 174.09 L322.27 171.94 L322.14 169.79 L322.00 167.64 L321.87 165.49 L321.73 163.33 L321.59 161.18 L321.45 159.03 L321.31 156.88 L321.17 154.72 L321.02 152.57 L320.87 150.42 L320.72 148.27 L320.57 146.12 L320.41 143.96 L320.26 141.81 L320.10 139.66 L319.94 137.51 L319.77 135.36 L319.61 133.20 L319.44 131.05 L319.27 128.90 L319.10 126.75 L318.92 124.59 L318.74 122.44 L318.56 120.29 L318.38 118.14 L318.20 115.99 L318.01 113.83 L317.82 111.68 L317.63 109.53 L317.43 107.38 L317.23 105.23 L317.03 103.07 L316.83 100.92 L316.62 98.77 L316.42 96.62 L316.21 94.46 L315.99 92.31 L315.78 90.16 L315.56 88.01 L315.33 85.86 L315.11 83.70 L314.88 81.55 L314.65 79.40 L314.42 77.25 L314.18 75.10 L313.94 72.94 L313.70 70.79 L313.45 68.64 L313.20 66.49 L312.95 64.33 L312.69 62.18 L312.43 60.03 L312.17 57.88 L311.91 55.73 L311.64 53.57 L311.37 51.42 L311.09 49.27 L310.81 47.12 L310.53 44.97 L310.25 42.81 L309.96 40.66 L309.66 38.51 L309.37 36.36 L309.07 34.20 L308.77 32.05 L308.47 30.00 M349.89 457.00 L349.91 456.03 L349.95 453.87 L349.99 451.72 L350.03 449.57 L350.07 447.42 L350.11 445.26 L350.15 443.11 L350.19 440.96 L350.22 438.81 L350.26 436.66 L350.30 434.50 L350.34 432.35 L350.38 430.20 L350.42 428.05 L350.46 425.90 L350.50 423.74 L350.54 421.59 L350.58 419.44 L350.62 417.29 L350.65 415.13 L350.69 412.98 L350.73 410.83 L350.77 408.68 L350.81 406.53 L350.85 404.37 L350.89 402.22 L350.93 400.07 L350.96 397.92 L351.00 395.76 L351.04 393.61 L351.08 391.46 L351.12 389.31 L351.15 387.16 L351.19 385.00 L351.23 382.85 L351.27 380.70 L351.31 378.55 L351.34 376.40 L351.38 374.24 L351.42 372.09 L351.45 369.94 L351.49 367.79 L351.53 365.63 L351.56 363.48 L351.60 361.33 L351.64 359.18 L351.67 357.03 L351.71 354.87 L351.74 352.72 L351.78 350.57 L351.81 348.42 L351.85 346.27 L351.88 344.11 L351.92 341.96 L351.95 339.81 L351.99 337.66 L352.02 335.50 L352.06 333.35 L352.09 331.20 L352.12 329.05 L352.16 326.90 L352.19 324.74 L352.22 322.59 L352.25 320.44 L352.29 318.29 L352.32 316.14 L352.35 313.98 L352.38 311.83 L352.41 309.68 L352.44 307.53 L352.47 305.37 L352.50 303.22 L352.53 301.07 L352.56 298.92 L352.59 296.77 L352.62 294.61 L352.65 292.46 L352.68 290.31 L352.70 288.16 L352.73 286.01 L352.76 283.85 L352.78 281.70 L352.81 279.55 L352.84 277.40 L352.86 275.24 L352.89 273.09 L352.91 270.94 L352.93 268.79 L352.96 266.64 L352.98 264.48 L353.00 262.33 L353.03 260.18 L353.05 258.03 L353.07 255.88 L353.09 253.72 L353.11 251.57 L353.13 249.42 L353.15 247.27 L353.17 245.11 L353.19 242.96 L353.21 240.81 L353.22 238.66 L353.24 236.51 L353.26 234.35 L353.27 232.20 L353.29 230.05 L353.30 227.90 L353.32 225.75 L353.33 223.59 L353.34 221.44 L353.35 219.29 L353.37 217.14 L353.38 214.98 L353.39 212.83 L353.40 210.68 L353.41 208.53 L353.42 206.38 L353.42 204.22 L353.43 202.07 L353.44 199.92 L353.44 197.77 L353.45 195.62 L353.45 193.46 L353.46 191.31 L353.46 189.16 L353.46 187.01 L353.46 184.85 L353.46 182.70 L353.46 180.55 L353.46 178.40 L353.46 176.25 L353.46 174.09 L353.45 171.94 L353.45 169.79 L353.44 167.64 L353.44 165.49 L353.43 163.33 L353.42 161.18 L353.42 159.03 L353.41 156.88 L353.40 154.72 L353.39 152.57 L353.37 150.42 L353.36 148.27 L353.35 146.12 L353.33 143.96 L353.31 141.81 L353.30 139.66 L353.28 137.51 L353.26 135.36 L353.24 133.20 L353.22 131.05 L353.20 128.90 L353.17 126.75 L353.15 124.59 L353.12 122.44 L353.10 120.29 L353.07 118.14 L353.04 115.99 L353.01 113.83 L352.98 111.68 L352.95 109.53 L352.91 107.38 L352.88 105.23 L352.84 103.07 L352.81 100.92 L352.77 98.77 L352.73 96.62 L352.69 94.46 L352.64 92.31 L352.60 90.16 L352.56 88.01 L352.51 85.86 L352.46 83.70 L352.41 81.55 L352.36 79.40 L352.31 77.25 L352.26 75.10 L352.20 72.94 L352.15 70.79 L352.09 68.64 L352.03 66.49 L351.97 64.33 L351.91 62.18 L351.84 60.03 L351.78 57.88 L351.71 55.73 L351.64 53.57 L351.57 51.42 L351.50 49.27 L351.42 47.12 L351.35 44.97 L351.27 42.81 L351.19 40.66 L351.11 38.51 L351.03 36.36 L350.95 34.20 L350.86 32.05 L350.78 30.00"/>
<path stroke="#ee008c" stroke-dasharray="2 3" d="M135.29 457.00 L135.72 455.10 L136.41 452.02 L137.10 448.94 L137.79 445.86 L138.48 442.78 L139.17 439.70 L139.86 436.62 L140.56 433.54 L141.25 430.46 L141.94 427.38 L142.64 424.30 L143.33 421.22 L144.03 418.14 L144.72 415.06 L145.42 411.98 L146.11 408.90 L146.81 405.82 L147.51 402.74 L148.20 399.66 L148.90 396.58 L149.60 393.50 L150.30 390.42 L150.99 387.34 L151.69 384.26 L152.39 381.18 L153.09 378.10 L153.79 375.02 L154.49 371.94 L155.19 368.86 L155.89 365.78 L156.60 362.70 L157.30 359.62 L158.00 356.54 L158.70 353.46 L159.40 350.38 L160.11 347.30 L160.81 344.22 L161.52 341.14 L162.22 338.06 L162.92 334.98 L163.63 331.90 L164.34 328.82 L165.04 325.74 L165.75 322.66 L166.45 319.58 L167.16 316.50 L167.87 313.42 L168.58 310.34 L169.28 307.26 L169.99 304.18 L170.70 301.11 L171.41 298.03 L172.12 294.95 L172.83 291.87 L173.54 288.79 L174.25 285.71 L174.96 282.63 L175.67 279.55 L176.38 276.47 M170.72 457.00 L171.13 455.10 L171.78 452.02 L172.44 448.94 L173.10 445.86 L173.76 442.78 L174.42 439.70 L175.08 436.62 L175.74 433.54 L176.40 430.46 L177.06 427.38 L177.72 424.30 L178.39 421.22 L179.05 418.14 L179.71 415.06 L180.37 411.98 L181.04 408.90 L181.70 405.82 L182.37 402.74 L183.03 399.66 L183.70 396.58 L184.36 393.50 L185.03 390.42 L185.70 387.34 L186.36 384.26 L187.03 381.18 L187.70 378.10 L188.37 375.02 L189.04 371.94 L189.71 368.86 L190.37 365.78 L191.04 362.70 L191.72 359.62 L192.39 356.54 L193.06 353.46 L193.73 350.38 L194.40 347.30 L195.07 344.22 L195.75 341.14 L196.42 338.06 L197.09 334.98 L197.77 331.90 L198.44 328.82 L199.12 325.74 L199.79 322.66 L200.47 319.58 L201.15 316.50 L201.82 313.42 L202.50 310.34 L203.18 307.26 L203.85 304.18 L204.53 301.11 L205.21 298.03 L205.89 294.95 L206.57 291.87 L207.25 288.79 L207.93 285.71 L208.61 282.63 L209.29 279.55 L209.97 276.47 M192.75 457.00 L193.14 455.10 L193.78 452.02 L194.41 448.94 L195.05 445.86 L195.69 442.78 L196.33 439.70 L196.97 436.62 L197.61 433.54 L198.25 430.46 L198.89 427.38 L199.53 424.30 L200.17 421.22 L200.81 418.14 L201.46 415.06 L202.10 411.98 L202.74 408.90 L203.39 405.82 L204.03 402.74 L204.68 399.66 L205.32 396.58 L205.97 393.50 L206.61 390.42 L207.26 387.34 L207.91 384.26 L208.55 381.18 L209.20 378.10 L209.85 375.02 L210.50 371.94 L211.15 368.86 L211.80 365.78 L212.45 362.70 L213.10 359.62 L213.75 356.54 L214.40 353.46 L215.05 350.38 L215.70 347.30 L216.36 344.22 L217.01 341.14 L217.66 338.06 L218.32 334.98 L218.97 331.90 L219.63 328.82 L220.28 325.74 L220.94 322.66 L221.59 319.58 L222.25 316.50 L222.91 313.42 L223.56 310.34 L224.22 307.26 L224.88 304.18 L225.54 301.11 L226.20 298.03 L226.86 294.95 L227.52 291.87 L228.18 288.79 L228.84 285.71 L229.50 282.63 L230.16 279.55 L230.83 276.47 M209.01 457.00 L209.39 455.10 L210.01 452.02 L210.64 448.94 L211.26 445.86 L211.88 442.78 L212.50 439.70 L213.13 436.62 L213.75 433.54 L214.38 430.46 L215.00 427.38 L215.63 424.30 L216.25 421.22 L216.88 418.14 L217.51 415.06 L218.14 411.98 L218.76 408.90 L219.39 405.82 L220.02 402.74 L220.65 399.66 L221.28 396.58 L221.91 393.50 L222.54 390.42 L223.17 387.34 L223.80 384.26 L224.44 381.18 L225.07 378.10 L225.70 375.02 L226.34 371.94 L226.97 368.86 L227.61 365.78 L228.24 362.70 L228.88 359.62 L229.51 356.54 L230.15 353.46 L230.79 350.38 L231.42 347.30 L232.06 344.22 L232.70 341.14 L233.34 338.06 L233.98 334.98 L234.62 331.90 L235.26 328.82 L235.90 325.74 L236.54 322.66 L237.18 319.58 L237.82 316.50 L238.46 313.42 L239.11 310.34 L239.75 307.26 L240.39 304.18 L241.04 301.11 L241.68 298.03 L242.33 294.95 L242.97 291.87 L243.62 288.79 L244.27 285.71 L244.91 282.63 L245.56 279.55 L246.21 276.47 M232.89 457.00 L233.26 455.10 L233.86 452.02 L234.46 448.94 L235.06 445.86 L235.66 442.78 L236.26 439.70 L236.86 436.62 L237.46 433.54 L238.06 430.46 L238.66 427.38 L239.26 424.30 L239.87 421.22 L240.47 418.14 L241.07 415.06 L241.68 411.98 L242.28 408.90 L242.89 405.82 L243.50 402.74 L244.10 399.66 L244.71 396.58 L245.32 393.50 L245.93 390.42 L246.53 387.34 L247.14 384.26 L247.75 381.18 L248.36 378.10 L248.97 375.02 L249.59 371.94 L250.20 368.86 L250.81 365.78 L251.42 362.70 L252.04 359.62 L252.65 356.54 L253.26 353.46 L253.88 350.38 L254.49 347.30 L255.11 344.22 L255.73 341.14 L256.34 338.06 L256.96 334.98 L257.58 331.90 L258.20 328.82 L258.81 325.74 L259.43 322.66 L260.05 319.58 L260.67 316.50 L261.29 313.42 L261.91 310.34 L262.54 307.26 L263.16 304.18 L263.78 301.11 L264.40 298.03 L265.03 294.95 L265.65 291.87 L266.28 288.79 L266.90 285.71 L267.53 282.63 L268.15 279.55 L268.78 276.47 M250.56 457.00 L250.92 455.10 L251.50 452.02 L252.08 448.94 L252.67 445.86 L253.25 442.78 L253.83 439.70 L254.41 436.62 L255.00 433.54 L255.58 430.46 L256.17 427.38 L256.75 424.30 L257.34 421.22 L257.92 418.14 L258.51 415.06 L259.10 411.98 L259.69 408.90 L260.27 405.82 L260.86 402.74 L261.45 399.66 L262.04 396.58 L262.63 393.50 L263.23 390.42 L263.82 387.34 L264.41 384.26 L265.00 381.18 L265.60 378.10 L266.19 375.02 L266.78 371.94 L267.38 368.86 L267.97 365.78 L268.57 362.70 L269.17 359.62 L269.76 356.54 L270.36 353.46 L270.96 350.38 L271.56 347.30 L272.16 344.22 L272.76 341.14 L273.36 338.06 L273.96 334.98 L274.56 331.90 L275.16 328.82 L275.76 325.74 L276.37 322.66 L276.97 319.58 L277.57 316.50 L278.18 313.42 L278.78 310.34 L279.39 307.26 L279.99 304.18 L280.60 301.11 L281.20 298.03 L281.81 294.95 L282.42 291.87 L283.03 288.79 L283.64 285.71 L284.25 282.63 L284.86 279.55 L285.47 276.47 M264.72 457.00 L265.07 455.10 L265.63 452.02 L266.20 448.94 L266.77 445.86 L267.33 442.78 L267.90 439.70 L268.47 436.62 L269.04 433.54 L269.61 430.46 L270.18 427.38 L270.75 424.30 L271.33 421.22 L271.90 418.14 L272.47 415.06 L273.05 411.98 L273.62 408.90 L274.19 405.82 L274.77 402.74 L275.35 399.66 L275.92 396.58 L276.50 393.50 L277.08 390.42 L277.65 387.34 L278.23 384.26 L278.81 381.18 L279.39 378.10 L279.97 375.02 L280.55 371.94 L281.13 368.86 L281.72 365.78 L282.30 362.70 L282.88 359.62 L283.46 356.54 L284.05 353.46 L284.63 350.38 L285.22 347.30 L285.80 344.22 L286.39 341.14 L286.98 338.06 L287.56 334.98 L288.15 331.90 L288.74 328.82 L289.33 325.74 L289.92 322.66 L290.51 319.58 L291.10 316.50 L291.69 313.42 L292.28 310.34 L292.87 307.26 L293.47 304.18 L294.06 301.11 L294.65 298.03 L295.25 294.95 L295.84 291.87 L296.44 288.79 L297.03 285.71 L297.63 282.63 L298.23 279.55 L298.82 276.47 M291.49 457.00 L291.83 455.10 L292.37 452.02 L292.91 448.94 L293.45 445.86 L293.99 442.78 L294.53 439.70 L295.07 436.62 L295.61 433.54 L296.16 430.46 L296.70 427.38 L297.25 424.30 L297.79 421.22 L298.34 418.14 L298.88 415.06 L299.43 411.98 L299.98 408.90 L300.53 405.82 L301.08 402.74 L301.63 399.66 L302.18 396.58 L302.73 393.50 L303.28 390.42 L303.83 387.34 L304.38 384.26 L304.94 381.18 L305.49 378.10 L306.04 375.02 L306.60 371.94 L307.15 368.86 L307.71 365.78 L308.27 362.70 L308.82 359.62 L309.38 356.54 L309.94 353.46 L310.50 350.38 L311.06 347.30 L311.62 344.22 L312.18 341.14 L312.74 338.06 L313.30 334.98 L313.86 331.90 L314.43 328.82 L314.99 325.74 L315.55 322.66 L316.12 319.58 L316.68 316.50 L317.25 313.42 L317.82 310.34 L318.38 307.26 L318.95 304.18 L319.52 301.11 L320.09 298.03 L320.66 294.95 L321.23 291.87 L321.80 288.79 L322.37 285.71 L322.94 282.63 L323.51 279.55 L324.08 276.47 M311.39 457.00 L311.71 455.10 L312.23 452.02 L312.75 448.94 L313.27 445.86 L313.79 442.78 L314.31 439.70 L314.83 436.62 L315.35 433.54 L315.88 430.46 L316.40 427.38 L316.93 424.30 L317.45 421.22 L317.98 418.14 L318.50 415.06 L319.03 411.98 L319.56 408.90 L320.09 405.82 L320.62 402.74 L321.15 399.66 L321.68 396.58 L322.21 393.50 L322.74 390.42 L323.27 387.34 L323.80 384.26 L324.34 381.18 L324.87 378.10 L325.41 375.02 L325.94 371.94 L326.48 368.86 L327.02 365.78 L327.55 362.70 L328.09 359.62 L328.63 356.54 L329.17 353.46 L329.71 350.38 L330.25 347.30 L330.79 344.22 L331.33 341.14 L331.87 338.06 L332.41 334.98 L332.96 331.90 L333.50 328.82 L334.05 325.74 L334.59 322.66 L335.14 319.58 L335.68 316.50 L336.23 313.42 L336.78 310.34 L337.33 307.26 L337.88 304.18 L338.42 301.11 L338.97 298.03 L339.52 294.95 L340.08 291.87 L340.63 288.79 L341.18 285.71 L341.73 282.63 L342.29 279.55 L342.84 276.47 M327.37 457.00 L327.68 455.10 L328.18 452.02 L328.68 448.94 L329.19 445.86 L329.69 442.78 L330.20 439.70 L330.70 436.62 L331.21 433.54 L331.72 430.46 L332.22 427.38 L332.73 424.30 L333.24 421.22 L333.75 418.14 L334.26 415.06 L334.77 411.98 L335.29 408.90 L335.80 405.82 L336.31 402.74 L336.83 399.66 L337.34 396.58 L337.86 393.50 L338.37 390.42 L338.89 387.34 L339.41 384.26 L339.92 381.18 L340.44 378.10 L340.96 375.02 L341.48 371.94 L342.00 368.86 L342.52 365.78 L343.04 362.70 L343.57 359.62 L344.09 356.54 L344.61 353.46 L345.14 350.38 L345.66 347.30 L346.19 344.22 L346.71 341.14 L347.24 338.06 L347.77 334.98 L348.29 331.90 L348.82 328.82 L349.35 325.74 L349.88 322.66 L350.41 319.58 L350.94 316.50 L351.48 313.42 L352.01 310.34 L352.54 307.26 L353.07 304.18 L353.61 301.11 L354.14 298.03 L354.68 294.95 L355.22 291.87 L355.75 288.79 L356.29 285.71 L356.83 282.63 L357.37 279.55 L357.91 276.47 M340.80 457.00 L341.10 455.10 L341.59 452.02 L342.08 448.94 L342.57 445.86 L343.06 442.78 L343.55 439.70 L344.05 436.62 L344.54 433.54 L345.03 430.46 L345.53 427.38 L346.02 424.30 L346.52 421.22 L347.02 418.14 L347.51 415.06 L348.01 411.98 L348.51 408.90 L349.01 405.82 L349.51 402.74 L350.01 399.66 L350.51 396.58 L351.01 393.50 L351.51 390.42 L352.02 387.34 L352.52 384.26 L353.03 381.18 L353.53 378.10 L354.04 375.02 L354.54 371.94 L355.05 368.86 L355.56 365.78 L356.07 362.70 L356.58 359.62 L357.09 356.54 L357.60 353.46 L358.11 350.38 L358.62 347.30 L359.13 344.22 L359.65 341.14 L360.16 338.06 L360.67 334.98 L361.19 331.90 L361.71 328.82 L362.22 325.74 L362.74 322.66 L363.26 319.58 L363.77 316.50 L364.29 313.42 L364.81 310.34 L365.33 307.26 L365.85 304.18 L366.38 301.11 L366.90 298.03 L367.42 294.95 L367.94 291.87 L368.47 288.79 L368.99 285.71 L369.52 282.63 L370.00 279.81 M352.44 457.00 L352.73 455.10 L353.21 452.02 L353.69 448.94 L354.17 445.86 L354.65 442.78 L355.13 439.70 L355.61 436.62 L356.09 433.54 L356.57 430.46 L357.05 427.38 L357.54 424.30 L358.02 421.22 L358.51 418.14 L358.99 415.06 L359.48 411.98 L359.97 408.90 L360.45 405.82 L360.94 402.74 L361.43 399.66 L361.92 396.58 L362.41 393.50 L362.90 390.42 L363.39 387.34 L363.89 384.26 L364.38 381.18 L364.87 378.10 L365.37 375.02 L365.86 371.94 L366.36 368.86 L366.85 365.78 L367.35 362.70 L367.85 359.62 L368.35 356.54 L368.85 353.46 L369.35 350.38 L369.85 347.30 L370.00 346.37 M362.74 457.00 L363.03 455.10 L363.49 452.02 L363.96 448.94 L364.43 445.86 L364.90 442.78 L365.37 439.70 L365.84 436.62 L366.31 433.54 L366.78 430.46 L367.25 427.38 L367.73 424.30 L368.20 421.22 L368.67 418.14 L369.15 415.06 L369.63 411.98 L370.00 409.56"/>
</g>
<g stroke="#000" stroke-width="1" shape-rendering="crispEdges">
<line x1="37" x2="39" y1="29.5" y2="29.5"/>
<line x1="41" x2="370" y1="84.5" y2="84.5"/>
<line x1="37" x2="39" y1="84.5" y2="84.5"/>
<line x1="41" x2="370" y1="132.5" y2="132.5"/>
<line x1="37" x2="39" y1="132.5" y2="132.5"/>
<line x1="41" x2="370" y1="174.5" y2="174.5"/>
<line x1="37" x2="39" y1="174.5" y2="174.5"/>
<line x1="41" x2="370" y1="211.5" y2="211.5"/>
<line x1="37" x2="39" y1="211.5" y2="211.5"/>
<line x1="41" x2="370" y1="245.5" y2="245.5"/>
<line x1="37" x2="39" y1="245.5" y2="245.5"/>
<line x1="41" x2="370" y1="276.5" y2="276.5"/>
<line x1="37" x2="39" y1="276.5" y2="276.5"/>
<line x1="41" x2="370" y1="304.5" y2="304.5"/>
<line x1="37" x2="39" y1="304.5" y2="304.5"/>
<line x1="41" x2="370" y1="331.5" y2="331.5"/>
<line x1="37" x2="39" y1="331.5" y2="331.5"/>
<line x1="41" x2="370" y1="355.5" y2="355.5"/>
<line x1="37" x2="39" y1="355.5" y2="355.5"/>
<line x1="41" x2="370" y1="378.5" y2="378.5"/>
<line x1="37" x2="39" y1="378.5" y2="378.5"/>
<line x1="41" x2="370" y1="400.5" y2="400.5"/>
<line x1="37" x2="39" y1="400.5" y2="400.5"/>
<line x1="41" x2="370" y1="420.5" y2="420.5"/>
<line x1="37" x2="39" y1="420.5" y2="420.5"/>
<line x1="41" x2="370" y1="440.5" y2="440.5"/>
<line x1="37" x2="39" y1="440.5" y2="440.5"/>
<line x1="37" x2="39" y1="458.5" y2="458.5"/>
</g>
<text x="176.30" y="274.00" font-size="8.50" textLength="3.60" lengthAdjust="spacingAndGlyphs" style="fill:#ee008c;stroke:#ee008c">1</text>
<text x="209.90" y="274.00" font-size="8.50" textLength="4.90" lengthAdjust="spacingAndGlyphs" style="fill:#ee008c;stroke:#ee008c">2</text>
<text x="230.50" y="274.00" font-size="8.50" textLength="4.80" lengthAdjust="spacingAndGlyphs" style="fill:#ee008c;stroke:#ee008c">3</text>
<text x="245.70" y="274.00" font-size="8.50" textLength="5.60" lengthAdjust="spacingAndGlyphs" style="fill:#ee008c;stroke:#ee008c">4</text>
<text x="268.60" y="274.00" font-size="8.50" textLength="5.00" lengthAdjust="spacingAndGlyphs" style="fill:#ee008c;stroke:#ee008c">6</text>
<text x="285.50" y="274.00" font-size="8.50" textLength="5.00" lengthAdjust="spacingAndGlyphs" style="fill:#ee008c;stroke:#ee008c">8</text>
<text x="299.20" y="274.00" font-size="8.50" textLength="9.50" lengthAdjust="spacingAndGlyphs" style="fill:#ee008c;stroke:#ee008c">10</text>
<text x="325.50" y="274.00" font-size="8.50" textLength="8.60" lengthAdjust="spacingAndGlyphs" style="fill:#ee008c;stroke:#ee008c">15</text>
<text x="342.40" y="274.00" font-size="8.50" textLength="9.50" lengthAdjust="spacingAndGlyphs" style="fill:#ee008c;stroke:#ee008c">20</text>
<text x="357.20" y="274.00" font-size="8.50" textLength="9.90" lengthAdjust="spacingAndGlyphs" style="fill:#ee008c;stroke:#ee008c">25</text>
<g fill="none" stroke-width="2" stroke-linejoin="round" stroke-linecap="round">
<polyline stroke="#a0a0a0" points="68.5,457.0 68.1,456.3 67.7,455.3 67.3,454.4 66.9,453.4 66.5,452.5 66.1,451.5 65.7,450.6 65.3,449.6 64.9,448.7 64.5,447.7 64.1,446.8 63.7,445.9 63.3,444.9 62.9,444.0 62.5,443.0 62.1,442.1 61.7,441.1 61.3,440.2 61.0,439.4 60.7,438.7 60.4,437.9 60.1,437.2 59.8,436.4 59.5,435.6 59.2,434.9 58.9,434.1 58.6,433.4 58.3,432.6 58.0,431.8 57.7,431.1 57.4,430.3 57.1,429.5 56.8,428.8 56.5,428.0 56.2,427.2 55.9,426.4 55.6,425.7 55.2,424.9 54.9,424.1 54.6,423.3 54.3,422.5 54.0,421.7 53.7,420.9 53.4,420.2 53.1,419.4 52.8,418.6 52.5,417.8 52.2,417.0 51.9,416.2 51.5,415.4 51.2,414.6 50.9,413.8 50.6,413.0 50.3,412.1 50.0,411.3 49.7,410.5 49.4,409.7 49.0,408.9 48.7,408.1 48.4,407.3 48.1,406.4 47.8,405.6 47.5,404.8 47.1,404.0 46.8,403.1 46.5,402.3 46.2,401.5 45.9,400.6 45.5,399.8 45.2,398.9 44.9,398.1 44.6,397.3 44.3,396.4 43.9,395.6 43.6,394.7 43.3,393.9 43.0,393.0 42.6,392.2 42.3,391.3 42.0,390.4 41.7,389.6 41.3,388.7 41.0,387.9 41.0,387.8"/>
<polyline stroke="#1a2cff" points="94.7,30.0 92.2,36.2 91.6,48.6 93.7,57.8 90.6,71.2 90.0,89.7 90.2,116.5 88.8,126.2 86.7,133.4 83.7,141.6 84.7,150.9 87.2,165.3 83.7,172.5 83.3,181.7 85.7,194.1 88.8,208.5 90.5,214.0 92.9,224.4 86.7,235.7 86.3,244.0 86.7,257.3 88.8,275.8 90.9,288.2 92.5,300.5 93.1,304.0 91.4,312.3 93.5,322.6 88.4,330.9 84.2,334.0 80.1,338.1 79.5,349.4 79.1,365.8 81.2,384.4 80.3,387.4 79.5,391.5 72.9,395.6 68.8,399.8 67.7,405.5 68.0,413.7 68.8,418.7 66.3,421.2 63.9,424.4 64.7,429.4 66.3,439.3 67.2,445.8 68.0,450.8 69.6,452.4 63.0,454.1 56.5,455.7"/>
<polyline stroke="#ff2828" points="162.2,30.0 153.3,46.5 148.2,64.0 142.0,77.4 138.9,89.7 134.8,106.2 128.6,124.7 125.8,133.4 120.7,140.6 119.3,146.7 117.2,163.2 113.9,170.4 111.9,174.5 111.4,198.2 111.0,218.2 111.9,224.8 102.2,235.7 102.2,239.8 103.6,246.0 104.9,259.4 105.7,277.9 106.9,300.5 106.9,304.1 106.3,312.3 107.5,322.6 101.7,329.8 93.9,338.1 93.1,341.2 93.5,361.7 93.9,389.5 89.4,394.0 83.1,399.8 82.5,402.2 83.6,409.6 84.4,418.7 81.2,421.2 80.3,425.3 83.1,432.7 85.8,441.7 86.4,450.8 83.6,453.3 69.6,455.7"/>
</g>
<rect x="40" y="29" width="331" height="429" fill="none" stroke="#000" stroke-width="2" shape-rendering="crispEdges"/>
<rect x="243.5" y="29.5" width="127" height="63" fill="#fff" stroke="#000" stroke-width="1" shape-rendering="crispEdges"/>
<g shape-rendering="crispEdges">
<line x1="245" x2="258" y1="35.0" y2="35.0" stroke="#ff2828" stroke-width="2"/>
<line x1="245" x2="258" y1="44.0" y2="44.0" stroke="#1a2cff" stroke-width="2"/>
<line x1="245" x2="258" y1="53.0" y2="53.0" stroke="#a0a0a0" stroke-width="2"/>
<line x1="245" x2="258" y1="61.5" y2="61.5" stroke="#f07d1e" stroke-width="1"/>
<line x1="245" x2="258" y1="70.5" y2="70.5" stroke="#00d200" stroke-width="1"/>
<line x1="245" x2="258" y1="78.5" y2="78.5" stroke="#1496ff" stroke-width="1"/>
<line x1="245" x2="258" y1="87.5" y2="87.5" stroke="#ee008c" stroke-width="1" stroke-dasharray="1.5 3.5"/>
</g>
<text x="263.30" y="39.50" font-size="10.00" textLength="66.00" lengthAdjust="spacing">Temperature</text>
<text x="263.30" y="48.00" font-size="10.00" textLength="47.00" lengthAdjust="spacing">Dewpoint</text>
<text x="263.30" y="56.60" font-size="10.00" textLength="91.80" lengthAdjust="spacing">Parcel Trajectory</text>
<text x="263.30" y="65.10" font-size="10.00" textLength="62.70" lengthAdjust="spacing">Dry Adiabat</text>
<text x="263.30" y="73.70" font-size="10.00" textLength="63.70" lengthAdjust="spacing">Wet Adiabat</text>
<text x="263.30" y="82.20" font-size="10.00" textLength="45.70" lengthAdjust="spacing">Isotherm</text>
<text x="263.30" y="90.80" font-size="10.00" textLength="65.40" lengthAdjust="spacing">Mixing Ratio</text>
<g stroke="#000" stroke-width="1" shape-rendering="crispEdges">
<line x1="372" x2="376" y1="57.5" y2="57.5"/>
<line x1="372" x2="376" y1="111.5" y2="111.5"/>
<line x1="372" x2="376" y1="165.5" y2="165.5"/>
<line x1="372" x2="376" y1="218.5" y2="218.5"/>
<line x1="372" x2="376" y1="272.5" y2="272.5"/>
<line x1="372" x2="376" y1="323.5" y2="323.5"/>
<line x1="372" x2="376" y1="375.5" y2="375.5"/>
<line x1="372" x2="376" y1="425.5" y2="425.5"/>
<line x1="372" x2="378" y1="437.5" y2="437.5"/>
</g>
<text x="378.30" y="61.00" font-size="11.00" textLength="5.40" lengthAdjust="spacingAndGlyphs">8</text>
<text x="378.30" y="115.00" font-size="11.00" textLength="5.40" lengthAdjust="spacingAndGlyphs">7</text>
<text x="378.30" y="169.00" font-size="11.00" textLength="5.40" lengthAdjust="spacingAndGlyphs">6</text>
<text x="378.30" y="222.00" font-size="11.00" textLength="5.40" lengthAdjust="spacingAndGlyphs">5</text>
<text x="378.30" y="276.00" font-size="11.00" textLength="5.40" lengthAdjust="spacingAndGlyphs">4</text>
<text x="378.30" y="327.00" font-size="11.00" textLength="5.40" lengthAdjust="spacingAndGlyphs">3</text>
<text x="378.30" y="379.00" font-size="11.00" textLength="5.40" lengthAdjust="spacingAndGlyphs">2</text>
<text x="378.30" y="429.00" font-size="11.00" textLength="5.40" lengthAdjust="spacingAndGlyphs">1</text>
<text x="383.50" y="442.00" font-size="11.00" textLength="18.50" lengthAdjust="spacing">LCL</text>
<text x="374.60" y="14.00" font-size="11.00" textLength="15.80" lengthAdjust="spacing">km</text>
<text x="374.60" y="28.00" font-size="11.00" textLength="19.60" lengthAdjust="spacing">ASL</text>
<text transform="translate(396,280.5) rotate(-90)" text-anchor="middle" font-size="10.5" textLength="111" lengthAdjust="spacing">Mixing Ratio (g/kg)</text>
<text x="17.60" y="34.00" font-size="11.00" textLength="16.50" lengthAdjust="spacingAndGlyphs">300</text>
<text x="17.60" y="88.00" font-size="11.00" textLength="16.50" lengthAdjust="spacingAndGlyphs">350</text>
<text x="17.60" y="136.00" font-size="11.00" textLength="16.50" lengthAdjust="spacingAndGlyphs">400</text>
<text x="17.60" y="178.00" font-size="11.00" textLength="16.50" lengthAdjust="spacingAndGlyphs">450</text>
<text x="17.60" y="215.00" font-size="11.00" textLength="16.50" lengthAdjust="spacingAndGlyphs">500</text>
<text x="17.60" y="249.00" font-size="11.00" textLength="16.50" lengthAdjust="spacingAndGlyphs">550</text>
<text x="17.60" y="280.00" font-size="11.00" textLength="16.50" lengthAdjust="spacingAndGlyphs">600</text>
<text x="17.60" y="308.00" font-size="11.00" textLength="16.50" lengthAdjust="spacingAndGlyphs">650</text>
<text x="17.60" y="335.00" font-size="11.00" textLength="16.50" lengthAdjust="spacingAndGlyphs">700</text>
<text x="17.60" y="359.00" font-size="11.00" textLength="16.50" lengthAdjust="spacingAndGlyphs">750</text>
<text x="17.60" y="382.00" font-size="11.00" textLength="16.50" lengthAdjust="spacingAndGlyphs">800</text>
<text x="17.60" y="404.00" font-size="11.00" textLength="16.50" lengthAdjust="spacingAndGlyphs">850</text>
<text x="17.60" y="424.00" font-size="11.00" textLength="16.50" lengthAdjust="spacingAndGlyphs">900</text>
<text x="17.60" y="444.00" font-size="11.00" textLength="16.50" lengthAdjust="spacingAndGlyphs">950</text>
<text x="12.10" y="462.00" font-size="11.00" textLength="22.00" lengthAdjust="spacingAndGlyphs">1000</text>
<text x="18.70" y="14.00" font-size="11.00" textLength="19.40" lengthAdjust="spacing">hPa</text>
<text x="58.00" y="20.00" font-size="12.50" textLength="51.90" lengthAdjust="spacing">58°50'N</text>
<text x="118.90" y="20.00" font-size="12.50" textLength="61.90" lengthAdjust="spacing">237°36'W</text>
<text x="190.70" y="20.00" font-size="12.50" textLength="37.80" lengthAdjust="spacing">382m</text>
<text x="237.10" y="20.00" font-size="12.50" textLength="23.50" lengthAdjust="spacing">ASL</text>
<text x="410.40" y="19.70" font-size="11.50" textLength="74.10" lengthAdjust="spacing">13.02.2021</text>
<text x="496.30" y="19.70" font-size="11.50" textLength="41.30" lengthAdjust="spacing">12GMT</text>
<text x="545.70" y="19.70" font-size="11.50" textLength="43.90" lengthAdjust="spacing">(Base:</text>
<text x="597.30" y="19.70" font-size="11.50" textLength="22.70" lengthAdjust="spacing">12)</text>
<text x="24.90" y="471.00" font-size="10.50" textLength="24.00" lengthAdjust="spacingAndGlyphs">−40</text>
<text x="67.00" y="471.00" font-size="10.50" textLength="23.50" lengthAdjust="spacingAndGlyphs">−30</text>
<text x="109.10" y="471.00" font-size="10.50" textLength="22.90" lengthAdjust="spacingAndGlyphs">−20</text>
<text x="150.90" y="471.00" font-size="10.50" textLength="22.70" lengthAdjust="spacingAndGlyphs">−10</text>
<text x="199.70" y="471.00" font-size="10.50" textLength="7.20" lengthAdjust="spacingAndGlyphs">0</text>
<text x="238.60" y="471.00" font-size="10.50" textLength="13.60" lengthAdjust="spacingAndGlyphs">10</text>
<text x="278.80" y="471.00" font-size="10.50" textLength="14.20" lengthAdjust="spacingAndGlyphs">20</text>
<text x="320.20" y="471.00" font-size="10.50" textLength="13.60" lengthAdjust="spacingAndGlyphs">30</text>
<text x="361.90" y="471.00" font-size="10.50" textLength="13.30" lengthAdjust="spacingAndGlyphs">40</text>
<text x="115.40" y="482.50" font-size="12.00" textLength="58.80" lengthAdjust="spacing">Dewpoint</text>
<text x="198.40" y="482.50" font-size="12.00" textLength="82.20" lengthAdjust="spacing">Temperature</text>
<text x="290.50" y="482.50" font-size="12.00" textLength="25.10" lengthAdjust="spacing">(°C)</text>
<text x="182.6" y="485.2" font-size="18.5" textLength="7.6" lengthAdjust="spacingAndGlyphs" style="font-family:'DejaVu Sans',sans-serif;font-weight:200;stroke:#000;stroke-width:0.2px">/</text>
<line x1="428.5" x2="428.5" y1="29" y2="459" stroke="#000" stroke-width="1" shape-rendering="crispEdges"/>
<g fill="none" stroke-width="1" stroke-linecap="square">
<path stroke="#2a4cff" d="M428.5 29 L415.4 14.2 M415.4 14.2 L422.8 8.2 M417 16 L424.6 10.2 M418.6 17.8 L426.4 13.3"/>
<path stroke="#98dc28" d="M428.5 131.6 L413.2 119.3 L419.9 111.9"/>
<path stroke="#98dc28" d="M428.5 331 L440.4 314.3 L447.8 319.3"/>
<path stroke="#00d800" d="M428.5 400.3 L428.5 380.3 L437.8 380.3 M428.5 383.3 L433 383.3"/>
<path stroke="#98dc28" d="M428.5 430.1 L420.4 411.8 L428.7 408"/>
<path stroke="#e2d228" d="M429 456.5 L408.9 456.5 M411.3 456.5 L411.3 452.4"/>
</g>
<path fill="#2a4cff" d="M427 28 h4 l-2 3 z"/>
<circle cx="428.8" cy="131.8" r="1.5" fill="#98dc28"/>
<circle cx="428.8" cy="331" r="1.5" fill="#98dc28"/>
<rect x="427" y="399" width="4" height="3" fill="#00d800"/>
<path fill="#98dc28" d="M427 429 h4 l-2 3 z"/>
<path fill="#e2d228" d="M428 455 l3 1.5 l-3 1.5 z"/>
<rect x="457" y="29" width="114" height="114" fill="none" stroke="#000" stroke-width="2" shape-rendering="crispEdges"/>
<rect x="509" y="29" width="10" height="1" fill="#fff"/><rect x="457" y="81" width="1" height="10" fill="#fff"/>
<g fill="none" stroke="#a8a8a8" stroke-width="1"><clipPath id="hc"><rect x="458" y="30" width="112" height="112"/></clipPath><g clip-path="url(#hc)">
<polygon points="533.31,88.39 532.41,92.52 530.62,96.36 528.03,99.70 524.75,102.38 520.96,104.26 516.85,105.25 512.61,105.31 508.48,104.41 504.64,102.62 501.30,100.03 498.62,96.75 496.74,92.96 495.75,88.85 495.69,84.61 496.59,80.48 498.38,76.64 500.97,73.30 504.25,70.62 508.04,68.74 512.15,67.75 516.39,67.69 520.52,68.59 524.36,70.38 527.70,72.97 530.38,76.25 532.26,80.04 533.25,84.15"/>
<polygon points="552.01,90.26 550.23,98.52 546.66,106.17 541.48,112.83 534.95,118.17 527.38,121.93 519.18,123.91 510.74,124.01 502.48,122.23 494.83,118.66 488.17,113.48 482.83,106.95 479.07,99.38 477.09,91.18 476.99,82.74 478.77,74.48 482.34,66.83 487.52,60.17 494.05,54.83 501.62,51.07 509.82,49.09 518.26,48.99 526.52,50.77 534.17,54.34 540.83,59.52 546.17,66.05 549.93,73.62 551.91,81.82"/>
<polygon points="570.82,92.15 568.15,104.54 562.79,116.03 555.01,126.03 545.20,134.05 533.84,139.69 521.52,142.66 508.85,142.82 496.46,140.15 484.97,134.79 474.97,127.01 466.95,117.20 461.31,105.84 458.34,93.52 458.18,80.85 460.85,68.46 466.21,56.97 473.99,46.97 483.80,38.95 495.16,33.31 507.48,30.34 520.15,30.18 532.54,32.85 544.03,38.21 554.03,45.99 562.05,55.80 567.69,67.16 570.66,79.48"/>
</g></g>
<text transform="translate(502.1,98.9) rotate(-45)" text-anchor="middle" font-size="8.5" style="fill:#b0b0b0;stroke:none" dy="3">15</text>
<text transform="translate(487.4,113.6) rotate(-45)" text-anchor="middle" font-size="8.5" style="fill:#b0b0b0;stroke:none" dy="3">30</text>
<text transform="translate(474.3,126.7) rotate(-45)" text-anchor="middle" font-size="8.5" style="fill:#b0b0b0;stroke:none" dy="3">45</text>
<g stroke="#000" stroke-width="1" shape-rendering="crispEdges">
<line x1="458" x2="570" y1="86.5" y2="86.5"/><line x1="514.5" x2="514.5" y1="30" y2="142"/>
<line x1="457.9" x2="457.9" y1="85" y2="88"/>
<line x1="513" x2="517" y1="29.9" y2="29.9"/>
<line x1="464.2" x2="464.2" y1="85" y2="88"/>
<line x1="513" x2="517" y1="36.2" y2="36.2"/>
<line x1="470.5" x2="470.5" y1="85" y2="88"/>
<line x1="513" x2="517" y1="42.5" y2="42.5"/>
<line x1="476.8" x2="476.8" y1="85" y2="88"/>
<line x1="513" x2="517" y1="48.8" y2="48.8"/>
<line x1="483.1" x2="483.1" y1="85" y2="88"/>
<line x1="513" x2="517" y1="55.0" y2="55.0"/>
<line x1="489.3" x2="489.3" y1="85" y2="88"/>
<line x1="513" x2="517" y1="61.3" y2="61.3"/>
<line x1="495.6" x2="495.6" y1="85" y2="88"/>
<line x1="513" x2="517" y1="67.6" y2="67.6"/>
<line x1="501.9" x2="501.9" y1="85" y2="88"/>
<line x1="513" x2="517" y1="73.9" y2="73.9"/>
<line x1="508.2" x2="508.2" y1="85" y2="88"/>
<line x1="513" x2="517" y1="80.2" y2="80.2"/>
<line x1="520.8" x2="520.8" y1="85" y2="88"/>
<line x1="513" x2="517" y1="92.8" y2="92.8"/>
<line x1="527.1" x2="527.1" y1="85" y2="88"/>
<line x1="513" x2="517" y1="99.1" y2="99.1"/>
<line x1="533.4" x2="533.4" y1="85" y2="88"/>
<line x1="513" x2="517" y1="105.4" y2="105.4"/>
<line x1="539.7" x2="539.7" y1="85" y2="88"/>
<line x1="513" x2="517" y1="111.7" y2="111.7"/>
<line x1="546.0" x2="546.0" y1="85" y2="88"/>
<line x1="513" x2="517" y1="118.0" y2="118.0"/>
<line x1="552.2" x2="552.2" y1="85" y2="88"/>
<line x1="513" x2="517" y1="124.2" y2="124.2"/>
<line x1="558.5" x2="558.5" y1="85" y2="88"/>
<line x1="513" x2="517" y1="130.5" y2="130.5"/>
<line x1="564.8" x2="564.8" y1="85" y2="88"/>
<line x1="513" x2="517" y1="136.8" y2="136.8"/>
<line x1="571.1" x2="571.1" y1="85" y2="88"/>
<line x1="513" x2="517" y1="143.1" y2="143.1"/>
</g>
<text x="460.70" y="39.00" font-size="10.50" textLength="8.10" lengthAdjust="spacing">kt</text>
<g fill="none" stroke="#000" stroke-width="1"><path d="M519.5 88 L519.5 95.5 M517 96.5 L526 96.5 M508.6 95.5 L520.7 95.5 L514.2 103.4 Z M513 91 L513 96 M510.5 93.5 L516 93.5"/></g>
<rect x="517" y="85" width="4" height="4" fill="#000"/><rect x="525" y="95" width="3" height="3" fill="#000"/><rect x="511" y="92" width="5" height="3" fill="#000"/><rect x="512" y="90" width="3" height="7" fill="#000"/>
<g fill="none" stroke="#000" stroke-width="1" shape-rendering="crispEdges">
<path d="M457.5 200 V155.5 H583.5 V200"/>
<path d="M457.5 303 V201.5 H583.5 V303"/>
<path d="M457.5 392.5 V304.5 H583.5 V392.5"/>
<path d="M457.5 392.5 H583.5 V466.5 H457.5 Z"/>
</g>
<text x="460.40" y="168.00" font-size="10.50" textLength="7.40" lengthAdjust="spacing">K</text>
<text x="549.00" y="168.00" font-size="10.50" textLength="8.80" lengthAdjust="spacingAndGlyphs">−</text>
<text x="558.60" y="168.00" font-size="10.50" textLength="12.10" lengthAdjust="spacing">31</text>
<text x="460.40" y="182.00" font-size="10.50" textLength="72.10" lengthAdjust="spacing">Totals Totals</text>
<text x="549.90" y="182.00" font-size="10.50" textLength="13.40" lengthAdjust="spacing">15</text>
<text x="460.40" y="196.50" font-size="10.50" textLength="47.60" lengthAdjust="spacing">PW (cm)</text>
<text x="549.60" y="196.50" font-size="10.50" textLength="23.60" lengthAdjust="spacing">0.09</text>
<text x="460.00" y="228.00" font-size="10.50" textLength="58.30" lengthAdjust="spacing">Temp (°C)</text>
<text x="548.60" y="228.00" font-size="10.50" textLength="8.80" lengthAdjust="spacingAndGlyphs">−</text>
<text x="558.20" y="228.00" font-size="10.50" textLength="22.90" lengthAdjust="spacing">33.1</text>
<text x="460.00" y="242.00" font-size="10.50" textLength="57.60" lengthAdjust="spacing">Dewp (°C)</text>
<text x="548.60" y="242.00" font-size="10.50" textLength="8.80" lengthAdjust="spacingAndGlyphs">−</text>
<text x="558.20" y="242.00" font-size="10.50" textLength="22.90" lengthAdjust="spacing">36.1</text>
<text x="549.20" y="256.00" font-size="10.50" textLength="20.60" lengthAdjust="spacing">240</text>
<text x="460.50" y="270.00" font-size="10.50" textLength="66.10" lengthAdjust="spacing">Lifted Index</text>
<text x="549.30" y="270.00" font-size="10.50" textLength="13.90" lengthAdjust="spacing">32</text>
<text x="460.50" y="284.00" font-size="10.50" textLength="50.20" lengthAdjust="spacing">CAPE (J)</text>
<text x="549.30" y="284.00" font-size="10.50" textLength="6.00" lengthAdjust="spacing">0</text>
<text x="460.50" y="298.00" font-size="10.50" textLength="39.80" lengthAdjust="spacing">CIN (J)</text>
<text x="549.30" y="298.00" font-size="10.50" textLength="6.00" lengthAdjust="spacing">0</text>
<text x="460.40" y="331.00" font-size="10.50" textLength="82.30" lengthAdjust="spacing">Pressure (mb)</text>
<text x="549.30" y="331.00" font-size="10.50" textLength="21.30" lengthAdjust="spacing">723</text>
<text x="549.30" y="345.00" font-size="10.50" textLength="21.30" lengthAdjust="spacing">259</text>
<text x="460.40" y="359.50" font-size="10.50" textLength="66.10" lengthAdjust="spacing">Lifted Index</text>
<text x="549.30" y="359.50" font-size="10.50" textLength="13.50" lengthAdjust="spacing">17</text>
<text x="460.40" y="374.00" font-size="10.50" textLength="50.00" lengthAdjust="spacing">CAPE (J)</text>
<text x="549.30" y="374.00" font-size="10.50" textLength="6.00" lengthAdjust="spacing">0</text>
<text x="460.40" y="388.00" font-size="10.50" textLength="40.00" lengthAdjust="spacing">CIN (J)</text>
<text x="549.30" y="388.00" font-size="10.50" textLength="6.00" lengthAdjust="spacing">0</text>
<text x="460.40" y="419.50" font-size="10.50" textLength="13.90" lengthAdjust="spacing">EH</text>
<text x="549.50" y="419.50" font-size="10.50" textLength="13.90" lengthAdjust="spacing">38</text>
<text x="460.40" y="433.50" font-size="10.50" textLength="29.50" lengthAdjust="spacing">SREH</text>
<text x="549.50" y="433.50" font-size="10.50" textLength="13.80" lengthAdjust="spacing">24</text>
<text x="460.40" y="448.00" font-size="10.50" textLength="37.10" lengthAdjust="spacing">StmDir</text>
<text x="549.50" y="448.00" font-size="10.50" textLength="18.80" lengthAdjust="spacing">11°</text>
<text x="460.40" y="462.00" font-size="10.50" textLength="69.60" lengthAdjust="spacing">StmSpd (kt)</text>
<text x="549.50" y="462.00" font-size="10.50" textLength="5.50" lengthAdjust="spacing">7</text>
<text x="460.6" y="256.0" font-size="10.5"><tspan font-weight="bold" font-style="italic">θ</tspan><tspan font-size="7.5" dy="1" font-weight="bold">ε</tspan></text>
<text x="470.70" y="256.00" font-size="11.50" textLength="16.40" lengthAdjust="spacingAndGlyphs">(K)</text>
<text x="460.6" y="345.0" font-size="10.5"><tspan font-weight="bold" font-style="italic">θ</tspan><tspan font-size="7.5" dy="1" font-weight="bold">ε</tspan></text>
<text x="477.30" y="345.00" font-size="11.50" textLength="16.40" lengthAdjust="spacingAndGlyphs">(K)</text>
<text x="495.00" y="214.00" font-size="10.50" textLength="41.00" lengthAdjust="spacing">Surface</text>
<text x="473.10" y="317.00" font-size="10.50" textLength="80.10" lengthAdjust="spacing">Most Unstable</text>
<text x="485.30" y="405.00" font-size="10.50" textLength="59.70" lengthAdjust="spacing">Hodograph</text>
<text x="449.10" y="483.50" font-size="12.00" textLength="10.80" lengthAdjust="spacingAndGlyphs">©</text>
<text x="462.80" y="483.00" font-size="12.00" textLength="135.10" lengthAdjust="spacing">weatheronline.co.uk</text>
</svg>
</body></html>
